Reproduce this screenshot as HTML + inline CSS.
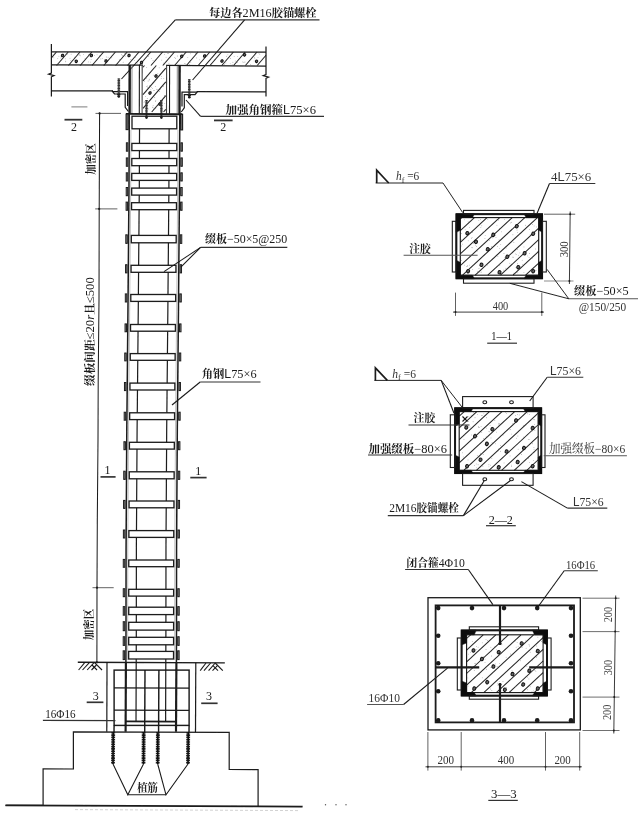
<!DOCTYPE html>
<html lang="zh"><head><meta charset="utf-8"><title>柱加固详图</title>
<style>
html,body{margin:0;padding:0;background:#fff;}
body{width:638px;height:822px;overflow:hidden;}
svg{display:block;font-family:'Liberation Serif','Noto Serif CJK SC',serif;}
svg text{white-space:pre;}
</style></head><body>
<svg width="638" height="822" viewBox="0 0 638 822">
<defs><filter id="soft" x="0" y="0" width="638" height="822" filterUnits="userSpaceOnUse"><feGaussianBlur stdDeviation="0.4"/></filter></defs>
<rect width="638" height="822" fill="#fff"/>
<g filter="url(#soft)">
<text x="209" y="17" font-size="11" text-anchor="start" fill="#1a1a1a" textLength="107.5" lengthAdjust="spacingAndGlyphs"><tspan font-weight="700">每边各</tspan><tspan font-size="11.99">2M16</tspan><tspan font-weight="700">胶锚螺栓</tspan></text>
<line x1="175.3" y1="19.8" x2="319.5" y2="19.8" stroke="#333" stroke-width="1.2"/>
<line x1="175.3" y1="19.8" x2="121.5" y2="79" stroke="#1a1a1a" stroke-width="1.08"/>
<line x1="244.6" y1="19.8" x2="192.6" y2="80" stroke="#1a1a1a" stroke-width="1.08"/>
<line x1="51.4" y1="51.8" x2="266" y2="52.2" stroke="#1a1a1a" stroke-width="1.32"/>
<line x1="51.4" y1="64.8" x2="143" y2="65.1" stroke="#1a1a1a" stroke-width="1.2"/>
<line x1="166" y1="65.4" x2="266" y2="66.2" stroke="#1a1a1a" stroke-width="1.2"/>
<line x1="51.4" y1="57.81" x2="56.4" y2="52" stroke="#222" stroke-width="1.08"/>
<line x1="56.59" y1="65.5" x2="68.2" y2="52" stroke="#222" stroke-width="1.08"/>
<line x1="68.39" y1="65.5" x2="80" y2="52" stroke="#222" stroke-width="1.08"/>
<line x1="80.19" y1="65.5" x2="91.8" y2="52" stroke="#222" stroke-width="1.08"/>
<line x1="91.99" y1="65.5" x2="103.6" y2="52" stroke="#222" stroke-width="1.08"/>
<line x1="103.79" y1="65.5" x2="115.4" y2="52" stroke="#222" stroke-width="1.08"/>
<line x1="115.59" y1="65.5" x2="127.2" y2="52" stroke="#222" stroke-width="1.08"/>
<line x1="127.39" y1="65.5" x2="139" y2="52" stroke="#222" stroke-width="1.08"/>
<line x1="139.19" y1="65.5" x2="150.8" y2="52" stroke="#222" stroke-width="1.08"/>
<line x1="150.99" y1="65.5" x2="162.6" y2="52" stroke="#222" stroke-width="1.08"/>
<line x1="162.79" y1="65.5" x2="174.4" y2="52" stroke="#222" stroke-width="1.08"/>
<line x1="174.59" y1="65.5" x2="186.2" y2="52" stroke="#222" stroke-width="1.08"/>
<line x1="186.39" y1="65.5" x2="198" y2="52" stroke="#222" stroke-width="1.08"/>
<line x1="198.19" y1="65.5" x2="209.8" y2="52" stroke="#222" stroke-width="1.08"/>
<line x1="209.99" y1="65.5" x2="221.6" y2="52" stroke="#222" stroke-width="1.08"/>
<line x1="221.79" y1="65.5" x2="233.4" y2="52" stroke="#222" stroke-width="1.08"/>
<line x1="233.59" y1="65.5" x2="245.2" y2="52" stroke="#222" stroke-width="1.08"/>
<line x1="245.39" y1="65.5" x2="257" y2="52" stroke="#222" stroke-width="1.08"/>
<line x1="257.19" y1="65.5" x2="266" y2="55.26" stroke="#222" stroke-width="1.08"/>
<circle cx="121.33" cy="54.73" r="0.4" fill="#777" stroke="none" stroke-width="0"/>
<circle cx="190.35" cy="53.83" r="0.4" fill="#777" stroke="none" stroke-width="0"/>
<circle cx="166.07" cy="57.21" r="0.4" fill="#777" stroke="none" stroke-width="0"/>
<circle cx="65.24" cy="58.84" r="0.4" fill="#777" stroke="none" stroke-width="0"/>
<circle cx="60.91" cy="57.99" r="0.4" fill="#777" stroke="none" stroke-width="0"/>
<circle cx="67.74" cy="54.04" r="0.4" fill="#777" stroke="none" stroke-width="0"/>
<circle cx="142.57" cy="62.51" r="0.4" fill="#777" stroke="none" stroke-width="0"/>
<circle cx="79.12" cy="55.57" r="0.4" fill="#777" stroke="none" stroke-width="0"/>
<circle cx="185.39" cy="63.9" r="0.4" fill="#777" stroke="none" stroke-width="0"/>
<circle cx="174.77" cy="57.56" r="0.4" fill="#777" stroke="none" stroke-width="0"/>
<circle cx="258.99" cy="53.54" r="0.4" fill="#777" stroke="none" stroke-width="0"/>
<circle cx="234.14" cy="56.33" r="0.4" fill="#777" stroke="none" stroke-width="0"/>
<circle cx="83.44" cy="54.35" r="0.4" fill="#777" stroke="none" stroke-width="0"/>
<circle cx="118.09" cy="62.39" r="0.4" fill="#777" stroke="none" stroke-width="0"/>
<circle cx="91.13" cy="59.69" r="0.4" fill="#777" stroke="none" stroke-width="0"/>
<circle cx="187.81" cy="57.28" r="0.4" fill="#777" stroke="none" stroke-width="0"/>
<circle cx="168.57" cy="53.72" r="0.4" fill="#777" stroke="none" stroke-width="0"/>
<circle cx="65.58" cy="55.37" r="0.4" fill="#777" stroke="none" stroke-width="0"/>
<circle cx="196.56" cy="57.92" r="0.4" fill="#777" stroke="none" stroke-width="0"/>
<circle cx="119.29" cy="59.73" r="0.4" fill="#777" stroke="none" stroke-width="0"/>
<circle cx="148.62" cy="56.45" r="0.4" fill="#777" stroke="none" stroke-width="0"/>
<circle cx="220.61" cy="61.04" r="0.4" fill="#777" stroke="none" stroke-width="0"/>
<circle cx="104.5" cy="59.61" r="0.4" fill="#777" stroke="none" stroke-width="0"/>
<circle cx="163.82" cy="63.06" r="0.4" fill="#777" stroke="none" stroke-width="0"/>
<circle cx="206.91" cy="56.31" r="0.4" fill="#777" stroke="none" stroke-width="0"/>
<circle cx="259.82" cy="54.36" r="0.4" fill="#777" stroke="none" stroke-width="0"/>
<circle cx="141.22" cy="61.71" r="0.4" fill="#777" stroke="none" stroke-width="0"/>
<circle cx="85.07" cy="58.62" r="0.4" fill="#777" stroke="none" stroke-width="0"/>
<circle cx="61.27" cy="60.68" r="0.4" fill="#777" stroke="none" stroke-width="0"/>
<circle cx="214.32" cy="59.59" r="0.4" fill="#777" stroke="none" stroke-width="0"/>
<circle cx="237.73" cy="56.61" r="0.4" fill="#777" stroke="none" stroke-width="0"/>
<circle cx="199.71" cy="59.84" r="0.4" fill="#777" stroke="none" stroke-width="0"/>
<circle cx="175.36" cy="58.25" r="0.4" fill="#777" stroke="none" stroke-width="0"/>
<circle cx="230.23" cy="63.86" r="0.4" fill="#777" stroke="none" stroke-width="0"/>
<circle cx="153.03" cy="60.64" r="0.4" fill="#777" stroke="none" stroke-width="0"/>
<circle cx="65.8" cy="61.07" r="0.4" fill="#777" stroke="none" stroke-width="0"/>
<circle cx="189.54" cy="64.42" r="0.4" fill="#777" stroke="none" stroke-width="0"/>
<circle cx="226.43" cy="56.27" r="0.4" fill="#777" stroke="none" stroke-width="0"/>
<circle cx="134.4" cy="60.69" r="0.4" fill="#777" stroke="none" stroke-width="0"/>
<circle cx="57.76" cy="58.31" r="0.4" fill="#777" stroke="none" stroke-width="0"/>
<circle cx="88.46" cy="54.35" r="0.4" fill="#777" stroke="none" stroke-width="0"/>
<circle cx="65.44" cy="61.83" r="0.4" fill="#777" stroke="none" stroke-width="0"/>
<circle cx="80.29" cy="55.85" r="0.4" fill="#777" stroke="none" stroke-width="0"/>
<circle cx="135.49" cy="63.02" r="0.4" fill="#777" stroke="none" stroke-width="0"/>
<circle cx="70" cy="58.17" r="0.4" fill="#777" stroke="none" stroke-width="0"/>
<circle cx="168.93" cy="63.16" r="0.4" fill="#777" stroke="none" stroke-width="0"/>
<circle cx="225.87" cy="62.94" r="0.4" fill="#777" stroke="none" stroke-width="0"/>
<circle cx="111.75" cy="57.78" r="0.4" fill="#777" stroke="none" stroke-width="0"/>
<circle cx="128.7" cy="63.17" r="0.4" fill="#777" stroke="none" stroke-width="0"/>
<circle cx="255.08" cy="54.74" r="0.4" fill="#777" stroke="none" stroke-width="0"/>
<circle cx="90.18" cy="55.67" r="0.4" fill="#777" stroke="none" stroke-width="0"/>
<circle cx="102.23" cy="58.58" r="0.4" fill="#777" stroke="none" stroke-width="0"/>
<circle cx="177.31" cy="56.02" r="0.4" fill="#777" stroke="none" stroke-width="0"/>
<circle cx="53.86" cy="57.82" r="0.4" fill="#777" stroke="none" stroke-width="0"/>
<circle cx="130.91" cy="59.51" r="0.4" fill="#777" stroke="none" stroke-width="0"/>
<circle cx="254.1" cy="60.94" r="0.4" fill="#777" stroke="none" stroke-width="0"/>
<circle cx="161.77" cy="60.1" r="0.4" fill="#777" stroke="none" stroke-width="0"/>
<circle cx="195.68" cy="53.62" r="0.4" fill="#777" stroke="none" stroke-width="0"/>
<circle cx="242.8" cy="61.97" r="0.4" fill="#777" stroke="none" stroke-width="0"/>
<circle cx="237.52" cy="62.18" r="0.4" fill="#777" stroke="none" stroke-width="0"/>
<circle cx="135.79" cy="57.59" r="0.4" fill="#777" stroke="none" stroke-width="0"/>
<circle cx="74.85" cy="60.29" r="0.4" fill="#777" stroke="none" stroke-width="0"/>
<circle cx="66.13" cy="53.77" r="0.4" fill="#777" stroke="none" stroke-width="0"/>
<circle cx="97.05" cy="54.87" r="0.4" fill="#777" stroke="none" stroke-width="0"/>
<circle cx="124.75" cy="53.6" r="0.4" fill="#777" stroke="none" stroke-width="0"/>
<circle cx="53.05" cy="54.74" r="0.4" fill="#777" stroke="none" stroke-width="0"/>
<circle cx="74.41" cy="57.18" r="0.4" fill="#777" stroke="none" stroke-width="0"/>
<circle cx="58.38" cy="63.05" r="0.4" fill="#777" stroke="none" stroke-width="0"/>
<circle cx="182.57" cy="54.71" r="0.4" fill="#777" stroke="none" stroke-width="0"/>
<circle cx="106.23" cy="56.99" r="0.4" fill="#777" stroke="none" stroke-width="0"/>
<circle cx="129.84" cy="54.41" r="0.4" fill="#777" stroke="none" stroke-width="0"/>
<circle cx="232.13" cy="64.42" r="0.4" fill="#777" stroke="none" stroke-width="0"/>
<circle cx="151.32" cy="58.56" r="0.4" fill="#777" stroke="none" stroke-width="0"/>
<circle cx="71.12" cy="54.18" r="0.4" fill="#777" stroke="none" stroke-width="0"/>
<circle cx="125.3" cy="56.04" r="0.4" fill="#777" stroke="none" stroke-width="0"/>
<circle cx="227.89" cy="54.86" r="0.4" fill="#777" stroke="none" stroke-width="0"/>
<circle cx="57.87" cy="63.94" r="0.4" fill="#777" stroke="none" stroke-width="0"/>
<circle cx="164.46" cy="54.69" r="0.4" fill="#777" stroke="none" stroke-width="0"/>
<circle cx="167.61" cy="53.31" r="0.4" fill="#777" stroke="none" stroke-width="0"/>
<circle cx="164.43" cy="64.25" r="0.4" fill="#777" stroke="none" stroke-width="0"/>
<circle cx="235.16" cy="61.01" r="0.4" fill="#777" stroke="none" stroke-width="0"/>
<circle cx="108.1" cy="57.22" r="0.4" fill="#777" stroke="none" stroke-width="0"/>
<circle cx="88.25" cy="61.88" r="0.4" fill="#777" stroke="none" stroke-width="0"/>
<circle cx="165.38" cy="61.96" r="0.4" fill="#777" stroke="none" stroke-width="0"/>
<circle cx="122.56" cy="55.56" r="0.4" fill="#777" stroke="none" stroke-width="0"/>
<circle cx="224.23" cy="64.33" r="0.4" fill="#777" stroke="none" stroke-width="0"/>
<circle cx="232.9" cy="62.27" r="0.4" fill="#777" stroke="none" stroke-width="0"/>
<circle cx="225.67" cy="61.51" r="0.4" fill="#777" stroke="none" stroke-width="0"/>
<circle cx="100.84" cy="58.95" r="0.4" fill="#777" stroke="none" stroke-width="0"/>
<circle cx="128.02" cy="53.33" r="0.4" fill="#777" stroke="none" stroke-width="0"/>
<circle cx="58.89" cy="56.21" r="0.4" fill="#777" stroke="none" stroke-width="0"/>
<circle cx="107.69" cy="60.96" r="0.4" fill="#777" stroke="none" stroke-width="0"/>
<circle cx="254.82" cy="58.14" r="0.4" fill="#777" stroke="none" stroke-width="0"/>
<circle cx="250.71" cy="64.36" r="0.4" fill="#777" stroke="none" stroke-width="0"/>
<circle cx="254.51" cy="57.19" r="0.4" fill="#777" stroke="none" stroke-width="0"/>
<circle cx="99.52" cy="55.61" r="0.4" fill="#777" stroke="none" stroke-width="0"/>
<circle cx="94.51" cy="55.35" r="0.4" fill="#777" stroke="none" stroke-width="0"/>
<circle cx="184.68" cy="63.35" r="0.4" fill="#777" stroke="none" stroke-width="0"/>
<circle cx="230.33" cy="58.51" r="0.4" fill="#777" stroke="none" stroke-width="0"/>
<circle cx="190.78" cy="62.2" r="0.4" fill="#777" stroke="none" stroke-width="0"/>
<circle cx="70.89" cy="60.6" r="0.4" fill="#777" stroke="none" stroke-width="0"/>
<circle cx="244.96" cy="62" r="0.4" fill="#777" stroke="none" stroke-width="0"/>
<circle cx="211.28" cy="58.5" r="0.4" fill="#777" stroke="none" stroke-width="0"/>
<circle cx="90.67" cy="62.08" r="0.4" fill="#777" stroke="none" stroke-width="0"/>
<circle cx="123.16" cy="62.21" r="0.4" fill="#777" stroke="none" stroke-width="0"/>
<circle cx="258.02" cy="57.55" r="0.4" fill="#777" stroke="none" stroke-width="0"/>
<circle cx="137.69" cy="63.89" r="0.4" fill="#777" stroke="none" stroke-width="0"/>
<circle cx="205.93" cy="54.96" r="0.4" fill="#777" stroke="none" stroke-width="0"/>
<circle cx="79.81" cy="54.74" r="0.4" fill="#777" stroke="none" stroke-width="0"/>
<circle cx="243.92" cy="62.27" r="0.4" fill="#777" stroke="none" stroke-width="0"/>
<ellipse cx="62.5" cy="55.5" rx="1.15" ry="1.32" fill="#666" stroke="#111" stroke-width="1" transform="rotate(25 62.5 55.5)"/>
<ellipse cx="76.3" cy="61.3" rx="1.15" ry="1.32" fill="#666" stroke="#111" stroke-width="1" transform="rotate(25 76.3 61.3)"/>
<ellipse cx="91.4" cy="55.5" rx="1.15" ry="1.32" fill="#666" stroke="#111" stroke-width="1" transform="rotate(25 91.4 55.5)"/>
<ellipse cx="106" cy="61" rx="1.15" ry="1.32" fill="#666" stroke="#111" stroke-width="1" transform="rotate(25 106 61)"/>
<ellipse cx="129" cy="55.5" rx="1.15" ry="1.32" fill="#666" stroke="#111" stroke-width="1" transform="rotate(25 129 55.5)"/>
<ellipse cx="141.5" cy="62.5" rx="1.15" ry="1.32" fill="#666" stroke="#111" stroke-width="1" transform="rotate(25 141.5 62.5)"/>
<ellipse cx="181.7" cy="56.3" rx="1.15" ry="1.32" fill="#666" stroke="#111" stroke-width="1" transform="rotate(25 181.7 56.3)"/>
<ellipse cx="204.6" cy="56" rx="1.15" ry="1.32" fill="#666" stroke="#111" stroke-width="1" transform="rotate(25 204.6 56)"/>
<ellipse cx="222" cy="61" rx="1.15" ry="1.32" fill="#666" stroke="#111" stroke-width="1" transform="rotate(25 222 61)"/>
<ellipse cx="244.6" cy="54.8" rx="1.15" ry="1.32" fill="#666" stroke="#111" stroke-width="1" transform="rotate(25 244.6 54.8)"/>
<ellipse cx="256.6" cy="61.3" rx="1.15" ry="1.32" fill="#666" stroke="#111" stroke-width="1" transform="rotate(25 256.6 61.3)"/>
<polyline points="51.4,44 51.4,73 48.6,74.2 54,75.6 51.4,76.8 51.4,96.5" fill="none" stroke="#1a1a1a" stroke-width="1.2"/>
<polyline points="266,46.6 266,74.5 263.2,75.7 268.6,77.1 266,78.3 266,96.5" fill="none" stroke="#1a1a1a" stroke-width="1.2"/>
<line x1="51.4" y1="90.8" x2="113" y2="90.9" stroke="#1a1a1a" stroke-width="1.2"/>
<line x1="196.5" y1="91.6" x2="266" y2="91.9" stroke="#1a1a1a" stroke-width="1.2"/>
<polyline points="112,90.9 114.5,94 125.2,94 125.2,107.4 128.4,111.5" fill="none" stroke="#1a1a1a" stroke-width="1.2"/>
<polyline points="113,91.6 127.6,91.6 127.6,106" fill="none" stroke="#1a1a1a" stroke-width="1.2"/>
<polyline points="197.5,91.6 195,94.6 184.3,94.6 184.3,107.8 181.3,112" fill="none" stroke="#1a1a1a" stroke-width="1.2"/>
<polyline points="196.5,92.2 182,92.2 182,106.5" fill="none" stroke="#1a1a1a" stroke-width="1.2"/>
<line x1="118.8" y1="78.4" x2="118.8" y2="97.2" stroke="#555" stroke-width="1.44"/>
<line x1="118.8" y1="78.4" x2="118.8" y2="97.2" stroke="#333" stroke-width="2.64" stroke-dasharray="1.1 0.5"/>
<line x1="117.2" y1="94.6" x2="120.4" y2="94.6" stroke="#1a1a1a" stroke-width="1.44"/>
<circle cx="118.8" cy="96.6" r="1.2" fill="#1a1a1a" stroke="none" stroke-width="0"/>
<line x1="189.3" y1="79.2" x2="189.3" y2="97.8" stroke="#555" stroke-width="1.44"/>
<line x1="189.3" y1="79.2" x2="189.3" y2="97.8" stroke="#333" stroke-width="2.64" stroke-dasharray="1.1 0.5"/>
<line x1="187.7" y1="95.2" x2="190.9" y2="95.2" stroke="#1a1a1a" stroke-width="1.44"/>
<circle cx="189.3" cy="97.2" r="1.2" fill="#1a1a1a" stroke="none" stroke-width="0"/>
<line x1="129.7" y1="65" x2="129.6" y2="113.7" stroke="#1a1a1a" stroke-width="2.4"/>
<line x1="132" y1="66" x2="131.9" y2="113" stroke="#777" stroke-width="0.84"/>
<line x1="139.4" y1="65" x2="139.3" y2="113.7" stroke="#1a1a1a" stroke-width="1.08"/>
<line x1="142.2" y1="65" x2="142.1" y2="113.7" stroke="#444" stroke-width="1.08"/>
<line x1="166.6" y1="65.5" x2="166.5" y2="113.7" stroke="#444" stroke-width="1.08"/>
<line x1="169.6" y1="65.5" x2="169.5" y2="113.7" stroke="#1a1a1a" stroke-width="1.08"/>
<line x1="177.3" y1="66" x2="177.2" y2="113" stroke="#777" stroke-width="0.84"/>
<line x1="179.6" y1="65.5" x2="179.5" y2="113.7" stroke="#1a1a1a" stroke-width="2.4"/>
<line x1="143" y1="67.24" x2="144.5" y2="65.5" stroke="#222" stroke-width="1.08"/>
<line x1="143" y1="80.97" x2="156.3" y2="65.5" stroke="#222" stroke-width="1.08"/>
<line x1="143" y1="94.69" x2="165.8" y2="68.17" stroke="#222" stroke-width="1.08"/>
<line x1="143" y1="108.41" x2="165.8" y2="81.9" stroke="#222" stroke-width="1.08"/>
<line x1="151.71" y1="112" x2="165.8" y2="95.62" stroke="#222" stroke-width="1.08"/>
<line x1="163.51" y1="112" x2="165.8" y2="109.34" stroke="#222" stroke-width="1.08"/>
<circle cx="147.07" cy="103.37" r="0.4" fill="#777" stroke="none" stroke-width="0"/>
<circle cx="164.59" cy="95.92" r="0.4" fill="#777" stroke="none" stroke-width="0"/>
<circle cx="151.36" cy="91.14" r="0.4" fill="#777" stroke="none" stroke-width="0"/>
<circle cx="146.75" cy="67.63" r="0.4" fill="#777" stroke="none" stroke-width="0"/>
<circle cx="164.39" cy="95.59" r="0.4" fill="#777" stroke="none" stroke-width="0"/>
<circle cx="155.06" cy="108.08" r="0.4" fill="#777" stroke="none" stroke-width="0"/>
<circle cx="153.11" cy="105.36" r="0.4" fill="#777" stroke="none" stroke-width="0"/>
<circle cx="161.35" cy="76.29" r="0.4" fill="#777" stroke="none" stroke-width="0"/>
<circle cx="149.29" cy="79.89" r="0.4" fill="#777" stroke="none" stroke-width="0"/>
<circle cx="149.05" cy="92.8" r="0.4" fill="#777" stroke="none" stroke-width="0"/>
<circle cx="149.45" cy="85.44" r="0.4" fill="#777" stroke="none" stroke-width="0"/>
<circle cx="146.75" cy="107.04" r="0.4" fill="#777" stroke="none" stroke-width="0"/>
<circle cx="151.43" cy="87.16" r="0.4" fill="#777" stroke="none" stroke-width="0"/>
<circle cx="156.25" cy="106.79" r="0.4" fill="#777" stroke="none" stroke-width="0"/>
<circle cx="152.83" cy="107.38" r="0.4" fill="#777" stroke="none" stroke-width="0"/>
<circle cx="154.53" cy="90.4" r="0.4" fill="#777" stroke="none" stroke-width="0"/>
<circle cx="154.99" cy="67.82" r="0.4" fill="#777" stroke="none" stroke-width="0"/>
<circle cx="153.24" cy="75.06" r="0.4" fill="#777" stroke="none" stroke-width="0"/>
<circle cx="144.08" cy="102.16" r="0.4" fill="#777" stroke="none" stroke-width="0"/>
<circle cx="147.62" cy="87.83" r="0.4" fill="#777" stroke="none" stroke-width="0"/>
<circle cx="159.23" cy="91.48" r="0.4" fill="#777" stroke="none" stroke-width="0"/>
<circle cx="150.85" cy="89.81" r="0.4" fill="#777" stroke="none" stroke-width="0"/>
<circle cx="155.66" cy="101.51" r="0.4" fill="#777" stroke="none" stroke-width="0"/>
<circle cx="146.23" cy="91.65" r="0.4" fill="#777" stroke="none" stroke-width="0"/>
<circle cx="149.22" cy="79.18" r="0.4" fill="#777" stroke="none" stroke-width="0"/>
<circle cx="160.22" cy="89.34" r="0.4" fill="#777" stroke="none" stroke-width="0"/>
<circle cx="155.8" cy="100.44" r="0.4" fill="#777" stroke="none" stroke-width="0"/>
<circle cx="163.16" cy="86.5" r="0.4" fill="#777" stroke="none" stroke-width="0"/>
<circle cx="156.86" cy="89.24" r="0.4" fill="#777" stroke="none" stroke-width="0"/>
<circle cx="154.76" cy="97.48" r="0.4" fill="#777" stroke="none" stroke-width="0"/>
<circle cx="153.5" cy="90.46" r="0.4" fill="#777" stroke="none" stroke-width="0"/>
<circle cx="154.04" cy="108.43" r="0.4" fill="#777" stroke="none" stroke-width="0"/>
<circle cx="158.68" cy="105.57" r="0.4" fill="#777" stroke="none" stroke-width="0"/>
<circle cx="163.79" cy="78.42" r="0.4" fill="#777" stroke="none" stroke-width="0"/>
<circle cx="155.75" cy="108.5" r="0.4" fill="#777" stroke="none" stroke-width="0"/>
<circle cx="161.64" cy="73.03" r="0.4" fill="#777" stroke="none" stroke-width="0"/>
<circle cx="146.55" cy="86.45" r="0.4" fill="#777" stroke="none" stroke-width="0"/>
<circle cx="145.52" cy="77.59" r="0.4" fill="#777" stroke="none" stroke-width="0"/>
<circle cx="145.54" cy="96.46" r="0.4" fill="#777" stroke="none" stroke-width="0"/>
<circle cx="160.46" cy="106.47" r="0.4" fill="#777" stroke="none" stroke-width="0"/>
<circle cx="147.24" cy="98.51" r="0.4" fill="#777" stroke="none" stroke-width="0"/>
<circle cx="157.87" cy="73.29" r="0.4" fill="#777" stroke="none" stroke-width="0"/>
<circle cx="162.54" cy="109.57" r="0.4" fill="#777" stroke="none" stroke-width="0"/>
<circle cx="148.61" cy="108.91" r="0.4" fill="#777" stroke="none" stroke-width="0"/>
<circle cx="152.36" cy="88.44" r="0.4" fill="#777" stroke="none" stroke-width="0"/>
<circle cx="164.79" cy="103.63" r="0.4" fill="#777" stroke="none" stroke-width="0"/>
<circle cx="147.39" cy="85.99" r="0.4" fill="#777" stroke="none" stroke-width="0"/>
<circle cx="154.83" cy="81.92" r="0.4" fill="#777" stroke="none" stroke-width="0"/>
<circle cx="148.11" cy="81.02" r="0.4" fill="#777" stroke="none" stroke-width="0"/>
<circle cx="159.17" cy="67.86" r="0.4" fill="#777" stroke="none" stroke-width="0"/>
<circle cx="155.64" cy="86.38" r="0.4" fill="#777" stroke="none" stroke-width="0"/>
<circle cx="144.38" cy="81.59" r="0.4" fill="#777" stroke="none" stroke-width="0"/>
<circle cx="157.1" cy="89.54" r="0.4" fill="#777" stroke="none" stroke-width="0"/>
<circle cx="145.35" cy="110.34" r="0.4" fill="#777" stroke="none" stroke-width="0"/>
<circle cx="160.56" cy="109.75" r="0.4" fill="#777" stroke="none" stroke-width="0"/>
<circle cx="146.2" cy="78.68" r="0.4" fill="#777" stroke="none" stroke-width="0"/>
<circle cx="144.83" cy="101.28" r="0.4" fill="#777" stroke="none" stroke-width="0"/>
<circle cx="149.68" cy="72.7" r="0.4" fill="#777" stroke="none" stroke-width="0"/>
<circle cx="152.87" cy="107.1" r="0.4" fill="#777" stroke="none" stroke-width="0"/>
<circle cx="161.2" cy="78.38" r="0.4" fill="#777" stroke="none" stroke-width="0"/>
<ellipse cx="156" cy="76" rx="1.15" ry="1.32" fill="#666" stroke="#111" stroke-width="1" transform="rotate(25 156 76)"/>
<ellipse cx="150" cy="93" rx="1.15" ry="1.32" fill="#666" stroke="#111" stroke-width="1" transform="rotate(25 150 93)"/>
<ellipse cx="160" cy="104" rx="1.15" ry="1.32" fill="#666" stroke="#111" stroke-width="1" transform="rotate(25 160 104)"/>
<line x1="146.5" y1="100" x2="146.5" y2="117.5" stroke="#555" stroke-width="1.32"/>
<line x1="146.5" y1="100" x2="146.5" y2="117.5" stroke="#333" stroke-width="2.4" stroke-dasharray="1.1 0.5"/>
<circle cx="146.5" cy="117.6" r="1.3" fill="#1a1a1a" stroke="none" stroke-width="0"/>
<line x1="161.4" y1="100" x2="161.4" y2="117.5" stroke="#555" stroke-width="1.32"/>
<line x1="161.4" y1="100" x2="161.4" y2="117.5" stroke="#333" stroke-width="2.4" stroke-dasharray="1.1 0.5"/>
<circle cx="161.4" cy="117.6" r="1.3" fill="#1a1a1a" stroke="none" stroke-width="0"/>
<line x1="126" y1="113.9" x2="182.3" y2="114.2" stroke="#1a1a1a" stroke-width="1.92"/>
<rect x="126.1" y="114" width="2.1" height="15.6" fill="#777" stroke="#1a1a1a" stroke-width="1.08"/>
<rect x="180.6" y="114.3" width="2" height="15.6" fill="#777" stroke="#1a1a1a" stroke-width="1.08"/>
<rect x="132" y="116.2" width="44.8" height="12.6" fill="none" stroke="#1a1a1a" stroke-width="1.32"/>
<polyline points="129.3,113.7 128.98,190 127.96,310 126.8,430 126.06,550 126,630 125.91,662.3" fill="none" stroke="#1a1a1a" stroke-width="1.5"/>
<polyline points="179.8,113.7 179.48,190 178.46,310 177.3,430 176.56,550 176.5,630 176.41,662.3" fill="none" stroke="#1a1a1a" stroke-width="1.5"/>
<polyline points="139.53,129 139.28,190 138.26,310 137.1,430 136.36,550 136.3,630 136.03,721" fill="none" stroke="#1a1a1a" stroke-width="1.2"/>
<polyline points="169.13,129 168.88,190 167.86,310 166.7,430 165.96,550 165.9,630 165.63,721" fill="none" stroke="#1a1a1a" stroke-width="1.2"/>
<polyline points="130.93,130 130.68,190 129.66,310 128.5,430 127.76,550 127.7,630 127.61,660" fill="none" stroke="#999" stroke-width="0.6"/>
<polyline points="177.93,130 177.68,190 176.66,310 175.5,430 174.76,550 174.7,630 174.61,660" fill="none" stroke="#999" stroke-width="0.6"/>
<rect x="131.87" y="143.4" width="44.9" height="7.2" fill="#fff" stroke="#1a1a1a" stroke-width="1.32"/>
<rect x="126.37" y="142.8" width="1.5" height="8.4" fill="#888" stroke="#1a1a1a" stroke-width="0.96"/>
<rect x="180.87" y="142.8" width="1.5" height="8.4" fill="#888" stroke="#1a1a1a" stroke-width="0.96"/>
<rect x="131.81" y="158.5" width="44.9" height="7.2" fill="#fff" stroke="#1a1a1a" stroke-width="1.32"/>
<rect x="126.31" y="157.9" width="1.5" height="8.4" fill="#888" stroke="#1a1a1a" stroke-width="0.96"/>
<rect x="180.81" y="157.9" width="1.5" height="8.4" fill="#888" stroke="#1a1a1a" stroke-width="0.96"/>
<rect x="131.75" y="173.4" width="44.9" height="7" fill="#fff" stroke="#1a1a1a" stroke-width="1.32"/>
<rect x="126.25" y="172.8" width="1.5" height="8.2" fill="#888" stroke="#1a1a1a" stroke-width="0.96"/>
<rect x="180.75" y="172.8" width="1.5" height="8.2" fill="#888" stroke="#1a1a1a" stroke-width="0.96"/>
<rect x="131.69" y="188.1" width="44.9" height="7" fill="#fff" stroke="#1a1a1a" stroke-width="1.32"/>
<rect x="126.19" y="187.5" width="1.5" height="8.2" fill="#888" stroke="#1a1a1a" stroke-width="0.96"/>
<rect x="180.69" y="187.5" width="1.5" height="8.2" fill="#888" stroke="#1a1a1a" stroke-width="0.96"/>
<rect x="131.57" y="202.7" width="44.9" height="7" fill="#fff" stroke="#1a1a1a" stroke-width="1.32"/>
<rect x="126.07" y="202.1" width="1.5" height="8.2" fill="#888" stroke="#1a1a1a" stroke-width="0.96"/>
<rect x="180.57" y="202.1" width="1.5" height="8.2" fill="#888" stroke="#1a1a1a" stroke-width="0.96"/>
<rect x="131.29" y="235.4" width="44.9" height="7.4" fill="#fff" stroke="#1a1a1a" stroke-width="1.32"/>
<rect x="125.79" y="234.8" width="1.5" height="8.6" fill="#888" stroke="#1a1a1a" stroke-width="0.96"/>
<rect x="180.29" y="234.8" width="1.5" height="8.6" fill="#888" stroke="#1a1a1a" stroke-width="0.96"/>
<rect x="131.04" y="265.3" width="44.9" height="7" fill="#fff" stroke="#1a1a1a" stroke-width="1.32"/>
<rect x="125.54" y="264.7" width="1.5" height="8.2" fill="#888" stroke="#1a1a1a" stroke-width="0.96"/>
<rect x="180.04" y="264.7" width="1.5" height="8.2" fill="#888" stroke="#1a1a1a" stroke-width="0.96"/>
<rect x="130.79" y="294.5" width="44.9" height="6.9" fill="#fff" stroke="#1a1a1a" stroke-width="1.32"/>
<rect x="125.29" y="293.9" width="1.5" height="8.1" fill="#888" stroke="#1a1a1a" stroke-width="0.96"/>
<rect x="179.79" y="293.9" width="1.5" height="8.1" fill="#888" stroke="#1a1a1a" stroke-width="0.96"/>
<rect x="130.52" y="324.5" width="44.9" height="6.7" fill="#fff" stroke="#1a1a1a" stroke-width="1.32"/>
<rect x="125.02" y="323.9" width="1.5" height="7.9" fill="#888" stroke="#1a1a1a" stroke-width="0.96"/>
<rect x="179.52" y="323.9" width="1.5" height="7.9" fill="#888" stroke="#1a1a1a" stroke-width="0.96"/>
<rect x="130.24" y="353.6" width="44.9" height="6.7" fill="#fff" stroke="#1a1a1a" stroke-width="1.32"/>
<rect x="124.74" y="353" width="1.5" height="7.9" fill="#888" stroke="#1a1a1a" stroke-width="0.96"/>
<rect x="179.24" y="353" width="1.5" height="7.9" fill="#888" stroke="#1a1a1a" stroke-width="0.96"/>
<rect x="129.95" y="383.1" width="44.9" height="6.9" fill="#fff" stroke="#1a1a1a" stroke-width="1.32"/>
<rect x="124.45" y="382.5" width="1.5" height="8.1" fill="#888" stroke="#1a1a1a" stroke-width="0.96"/>
<rect x="178.95" y="382.5" width="1.5" height="8.1" fill="#888" stroke="#1a1a1a" stroke-width="0.96"/>
<rect x="129.67" y="412.8" width="44.9" height="6.8" fill="#fff" stroke="#1a1a1a" stroke-width="1.32"/>
<rect x="124.17" y="412.2" width="1.5" height="8" fill="#888" stroke="#1a1a1a" stroke-width="0.96"/>
<rect x="178.67" y="412.2" width="1.5" height="8" fill="#888" stroke="#1a1a1a" stroke-width="0.96"/>
<rect x="129.42" y="442.3" width="44.9" height="6.8" fill="#fff" stroke="#1a1a1a" stroke-width="1.32"/>
<rect x="123.92" y="441.7" width="1.5" height="8" fill="#888" stroke="#1a1a1a" stroke-width="0.96"/>
<rect x="178.42" y="441.7" width="1.5" height="8" fill="#888" stroke="#1a1a1a" stroke-width="0.96"/>
<rect x="129.24" y="471.8" width="44.9" height="7" fill="#fff" stroke="#1a1a1a" stroke-width="1.32"/>
<rect x="123.74" y="471.2" width="1.5" height="8.2" fill="#888" stroke="#1a1a1a" stroke-width="0.96"/>
<rect x="178.24" y="471.2" width="1.5" height="8.2" fill="#888" stroke="#1a1a1a" stroke-width="0.96"/>
<rect x="129.06" y="501" width="44.9" height="6.8" fill="#fff" stroke="#1a1a1a" stroke-width="1.32"/>
<rect x="123.56" y="500.4" width="1.5" height="8" fill="#888" stroke="#1a1a1a" stroke-width="0.96"/>
<rect x="178.06" y="500.4" width="1.5" height="8" fill="#888" stroke="#1a1a1a" stroke-width="0.96"/>
<rect x="128.88" y="530.6" width="44.9" height="6.8" fill="#fff" stroke="#1a1a1a" stroke-width="1.32"/>
<rect x="123.38" y="530" width="1.5" height="8" fill="#888" stroke="#1a1a1a" stroke-width="0.96"/>
<rect x="177.88" y="530" width="1.5" height="8" fill="#888" stroke="#1a1a1a" stroke-width="0.96"/>
<rect x="128.75" y="560" width="44.9" height="6.7" fill="#fff" stroke="#1a1a1a" stroke-width="1.32"/>
<rect x="123.25" y="559.4" width="1.5" height="7.9" fill="#888" stroke="#1a1a1a" stroke-width="0.96"/>
<rect x="177.75" y="559.4" width="1.5" height="7.9" fill="#888" stroke="#1a1a1a" stroke-width="0.96"/>
<rect x="128.73" y="589.3" width="44.9" height="6.8" fill="#fff" stroke="#1a1a1a" stroke-width="1.32"/>
<rect x="123.23" y="588.7" width="1.5" height="8" fill="#888" stroke="#1a1a1a" stroke-width="0.96"/>
<rect x="177.73" y="588.7" width="1.5" height="8" fill="#888" stroke="#1a1a1a" stroke-width="0.96"/>
<rect x="128.72" y="607.2" width="44.9" height="7.4" fill="#fff" stroke="#1a1a1a" stroke-width="1.32"/>
<rect x="123.22" y="606.6" width="1.5" height="8.6" fill="#888" stroke="#1a1a1a" stroke-width="0.96"/>
<rect x="177.72" y="606.6" width="1.5" height="8.6" fill="#888" stroke="#1a1a1a" stroke-width="0.96"/>
<rect x="128.71" y="622.3" width="44.9" height="7.8" fill="#fff" stroke="#1a1a1a" stroke-width="1.32"/>
<rect x="123.21" y="621.7" width="1.5" height="9" fill="#888" stroke="#1a1a1a" stroke-width="0.96"/>
<rect x="177.71" y="621.7" width="1.5" height="9" fill="#888" stroke="#1a1a1a" stroke-width="0.96"/>
<rect x="128.68" y="637.3" width="44.9" height="7.5" fill="#fff" stroke="#1a1a1a" stroke-width="1.32"/>
<rect x="123.18" y="636.7" width="1.5" height="8.7" fill="#888" stroke="#1a1a1a" stroke-width="0.96"/>
<rect x="177.68" y="636.7" width="1.5" height="8.7" fill="#888" stroke="#1a1a1a" stroke-width="0.96"/>
<rect x="128.64" y="651.4" width="44.9" height="7.6" fill="#fff" stroke="#1a1a1a" stroke-width="1.32"/>
<rect x="123.14" y="650.8" width="1.5" height="8.8" fill="#888" stroke="#1a1a1a" stroke-width="0.96"/>
<rect x="177.64" y="650.8" width="1.5" height="8.8" fill="#888" stroke="#1a1a1a" stroke-width="0.96"/>
<polyline points="99.6,112.7 99.2,209 99,300 98.2,380 98,440 97.3,520 97,588 96.9,662.3" fill="none" stroke="#1a1a1a" stroke-width="1.02"/>
<line x1="95.5" y1="113.4" x2="121" y2="113.4" stroke="#444" stroke-width="0.84"/>
<line x1="95.2" y1="208.9" x2="117.4" y2="208.9" stroke="#444" stroke-width="0.84"/>
<line x1="92.5" y1="587.7" x2="113.7" y2="587.7" stroke="#444" stroke-width="0.84"/>
<circle cx="99.6" cy="113.4" r="1.1" fill="#1a1a1a" stroke="none" stroke-width="0"/>
<circle cx="99.2" cy="208.9" r="1.1" fill="#1a1a1a" stroke="none" stroke-width="0"/>
<circle cx="97" cy="587.7" r="1.1" fill="#1a1a1a" stroke="none" stroke-width="0"/>
<circle cx="96.9" cy="662.3" r="1.1" fill="#1a1a1a" stroke="none" stroke-width="0"/>
<text x="95.2" y="159.1" font-size="11" text-anchor="middle" fill="#1a1a1a" textLength="31.4" lengthAdjust="spacingAndGlyphs" transform="rotate(-90 95.2 159.1)"><tspan font-weight="700">加密区</tspan></text>
<text x="93.8" y="331.6" font-size="11" text-anchor="middle" fill="#1a1a1a" textLength="108.7" lengthAdjust="spacingAndGlyphs" transform="rotate(-90 93.8 331.6)"><tspan font-weight="700">缀板间距</tspan><tspan font-size="11.99">≤20</tspan><tspan font-size="11.99" font-style="italic">r</tspan><tspan font-weight="700">且</tspan><tspan font-size="11.99">≤500</tspan></text>
<text x="92.8" y="624.6" font-size="11" text-anchor="middle" fill="#1a1a1a" textLength="31.4" lengthAdjust="spacingAndGlyphs" transform="rotate(-90 92.8 624.6)"><tspan font-weight="700">加密区</tspan></text>
<line x1="71.4" y1="106.9" x2="87.4" y2="106.9" stroke="#777" stroke-width="0.96"/>
<line x1="64.5" y1="119.7" x2="82.3" y2="119.7" stroke="#333" stroke-width="1.8"/>
<text x="73.9" y="130.6" font-size="11" text-anchor="middle" fill="#1a1a1a"><tspan font-size="11.99">2</tspan></text>
<line x1="214" y1="120.4" x2="232.6" y2="120.4" stroke="#333" stroke-width="1.8"/>
<text x="223.3" y="131.2" font-size="11" text-anchor="middle" fill="#1a1a1a"><tspan font-size="11.99">2</tspan></text>
<text x="225.4" y="113.6" font-size="11" text-anchor="start" fill="#1a1a1a" textLength="90.6" lengthAdjust="spacingAndGlyphs"><tspan font-weight="700">加强角钢箍</tspan><tspan font-size="11.99" font-family="Liberation Sans,sans-serif" font-weight="400">L</tspan><tspan font-size="11.99">75×6</tspan></text>
<line x1="200.6" y1="116.4" x2="324" y2="116.4" stroke="#333" stroke-width="1.2"/>
<line x1="200.6" y1="116.4" x2="186" y2="100" stroke="#1a1a1a" stroke-width="1.08"/>
<text x="205" y="243.2" font-size="11" text-anchor="start" fill="#1a1a1a" textLength="82.3" lengthAdjust="spacingAndGlyphs"><tspan font-weight="700">缀板</tspan><tspan font-size="11.99">−50×5@250</tspan></text>
<line x1="200.6" y1="247.4" x2="287.3" y2="247.4" stroke="#333" stroke-width="1.2"/>
<line x1="200.6" y1="247.4" x2="164" y2="271.6" stroke="#1a1a1a" stroke-width="1.08"/>
<line x1="200.6" y1="247.4" x2="180.8" y2="267.2" stroke="#1a1a1a" stroke-width="1.08"/>
<text x="201.7" y="377.8" font-size="11" text-anchor="start" fill="#1a1a1a" textLength="54.9" lengthAdjust="spacingAndGlyphs"><tspan font-weight="700">角钢</tspan><tspan font-size="11.99" font-family="Liberation Sans,sans-serif" font-weight="400">L</tspan><tspan font-size="11.99">75×6</tspan></text>
<line x1="200.2" y1="382" x2="260.5" y2="382" stroke="#333" stroke-width="1.2"/>
<line x1="200.2" y1="382" x2="172" y2="405" stroke="#1a1a1a" stroke-width="1.08"/>
<line x1="100.5" y1="476.9" x2="115.6" y2="476.9" stroke="#333" stroke-width="1.68"/>
<text x="107.6" y="474" font-size="11" text-anchor="middle" fill="#1a1a1a"><tspan font-size="11.99">1</tspan></text>
<line x1="190.3" y1="477.6" x2="206.6" y2="477.6" stroke="#333" stroke-width="1.68"/>
<text x="198.3" y="474.6" font-size="11" text-anchor="middle" fill="#1a1a1a"><tspan font-size="11.99">1</tspan></text>
<line x1="77.8" y1="662.2" x2="224.8" y2="662.9" stroke="#1a1a1a" stroke-width="1.44"/>
<line x1="84.9" y1="662.4" x2="78.6" y2="670" stroke="#1a1a1a" stroke-width="1.08"/>
<line x1="89.6" y1="662.4" x2="82.5" y2="670" stroke="#1a1a1a" stroke-width="1.08"/>
<line x1="94.3" y1="662.4" x2="87.2" y2="670" stroke="#1a1a1a" stroke-width="1.08"/>
<line x1="94.3" y1="662.4" x2="102" y2="670" stroke="#1a1a1a" stroke-width="1.08"/>
<line x1="92" y1="665" x2="97" y2="670" stroke="#1a1a1a" stroke-width="1.08"/>
<line x1="96.4" y1="665" x2="91.5" y2="670" stroke="#1a1a1a" stroke-width="1.08"/>
<line x1="206" y1="663" x2="200.2" y2="670.6" stroke="#1a1a1a" stroke-width="1.08"/>
<line x1="210.6" y1="663" x2="204" y2="670.6" stroke="#1a1a1a" stroke-width="1.08"/>
<line x1="215.2" y1="663" x2="208.6" y2="670.6" stroke="#1a1a1a" stroke-width="1.08"/>
<line x1="215.2" y1="663" x2="222.8" y2="670.6" stroke="#1a1a1a" stroke-width="1.08"/>
<line x1="213" y1="665.6" x2="218" y2="670.6" stroke="#1a1a1a" stroke-width="1.08"/>
<line x1="217.4" y1="665.6" x2="212.5" y2="670.6" stroke="#1a1a1a" stroke-width="1.08"/>
<line x1="107" y1="662.3" x2="106.8" y2="731.8" stroke="#1a1a1a" stroke-width="1.2"/>
<line x1="195.8" y1="662.8" x2="195.5" y2="732.2" stroke="#1a1a1a" stroke-width="1.2"/>
<rect x="114.1" y="670.1" width="75" height="55.3" fill="none" stroke="#1a1a1a" stroke-width="1.44"/>
<line x1="114.1" y1="687.8" x2="189.1" y2="688.1" stroke="#1a1a1a" stroke-width="1.2"/>
<line x1="114.1" y1="710.1" x2="189.1" y2="710.4" stroke="#1a1a1a" stroke-width="1.2"/>
<line x1="114.1" y1="725.4" x2="114" y2="732" stroke="#1a1a1a" stroke-width="1.44"/>
<line x1="189.1" y1="725.4" x2="189" y2="732" stroke="#1a1a1a" stroke-width="1.44"/>
<line x1="125.9" y1="662" x2="125.6" y2="731.8" stroke="#1a1a1a" stroke-width="2.16"/>
<line x1="176.4" y1="662" x2="176" y2="731.8" stroke="#1a1a1a" stroke-width="2.16"/>
<line x1="145" y1="670.1" x2="144.7" y2="732" stroke="#1a1a1a" stroke-width="1.44"/>
<line x1="158.9" y1="670.1" x2="158.6" y2="732" stroke="#1a1a1a" stroke-width="1.44"/>
<line x1="125" y1="721.4" x2="176.3" y2="721.6" stroke="#1a1a1a" stroke-width="1.8"/>
<text x="95.8" y="699.8" font-size="11" text-anchor="middle" fill="#1a1a1a"><tspan font-size="11.99">3</tspan></text>
<line x1="86.7" y1="702.3" x2="103.4" y2="702.3" stroke="#333" stroke-width="1.68"/>
<text x="209" y="700.3" font-size="11" text-anchor="middle" fill="#1a1a1a"><tspan font-size="11.99">3</tspan></text>
<line x1="201.2" y1="703.3" x2="217.6" y2="703.3" stroke="#333" stroke-width="1.68"/>
<text x="45.2" y="718.4" font-size="11" text-anchor="start" fill="#1a1a1a" textLength="30.3" lengthAdjust="spacingAndGlyphs"><tspan font-size="11.99">16Φ16</tspan></text>
<line x1="42.9" y1="720.4" x2="115.4" y2="720.6" stroke="#333" stroke-width="1.08"/>
<polyline points="5.5,805.3 43.1,805.4 43.1,768.9 73.4,769 73.4,731.8 229.2,732.4 229.2,769.5 258.1,769.6 258.1,806.2" fill="none" stroke="#1a1a1a" stroke-width="1.2"/>
<line x1="5.5" y1="805.3" x2="302.6" y2="806.6" stroke="#1a1a1a" stroke-width="1.68"/>
<circle cx="325.5" cy="804.8" r="0.7" fill="#555" stroke="none" stroke-width="0"/>
<circle cx="336" cy="804.8" r="0.7" fill="#555" stroke="none" stroke-width="0"/>
<circle cx="346" cy="804.8" r="0.7" fill="#555" stroke="none" stroke-width="0"/>
<line x1="75" y1="809.6" x2="300" y2="810.6" stroke="#d0d0d0" stroke-width="0.96" stroke-dasharray="3 2"/>
<line x1="113.2" y1="732" x2="113" y2="764" stroke="#222" stroke-width="3.84" stroke-dasharray="1.6 0.7"/>
<line x1="113.2" y1="732" x2="113" y2="764" stroke="#111" stroke-width="1.68"/>
<line x1="143.7" y1="732" x2="143.5" y2="764" stroke="#222" stroke-width="3.84" stroke-dasharray="1.6 0.7"/>
<line x1="143.7" y1="732" x2="143.5" y2="764" stroke="#111" stroke-width="1.68"/>
<line x1="157.9" y1="732" x2="157.7" y2="764" stroke="#222" stroke-width="3.84" stroke-dasharray="1.6 0.7"/>
<line x1="157.9" y1="732" x2="157.7" y2="764" stroke="#111" stroke-width="1.68"/>
<line x1="188.2" y1="732" x2="188" y2="764" stroke="#222" stroke-width="3.84" stroke-dasharray="1.6 0.7"/>
<line x1="188.2" y1="732" x2="188" y2="764" stroke="#111" stroke-width="1.68"/>
<polyline points="113,764 127.8,794.8 143.5,764" fill="none" stroke="#1a1a1a" stroke-width="1.08"/>
<polyline points="157.7,764 166,794.8 188,764" fill="none" stroke="#1a1a1a" stroke-width="1.08"/>
<line x1="127.8" y1="794.8" x2="166" y2="794.8" stroke="#1a1a1a" stroke-width="1.08"/>
<text x="137.2" y="792.2" font-size="11" text-anchor="start" fill="#1a1a1a" textLength="20.8" lengthAdjust="spacingAndGlyphs"><tspan font-weight="700">植筋</tspan></text>
<line x1="460.3" y1="218.99" x2="461.8" y2="217.6" stroke="#222" stroke-width="1.02"/>
<line x1="460.3" y1="230.66" x2="474.4" y2="217.6" stroke="#222" stroke-width="1.02"/>
<line x1="460.3" y1="242.32" x2="487" y2="217.6" stroke="#222" stroke-width="1.02"/>
<line x1="460.3" y1="253.99" x2="499.6" y2="217.6" stroke="#222" stroke-width="1.02"/>
<line x1="460.3" y1="265.66" x2="512.2" y2="217.6" stroke="#222" stroke-width="1.02"/>
<line x1="462.59" y1="275.2" x2="524.8" y2="217.6" stroke="#222" stroke-width="1.02"/>
<line x1="475.19" y1="275.2" x2="537.4" y2="217.6" stroke="#222" stroke-width="1.02"/>
<line x1="487.79" y1="275.2" x2="538.7" y2="228.06" stroke="#222" stroke-width="1.02"/>
<line x1="500.39" y1="275.2" x2="538.7" y2="239.73" stroke="#222" stroke-width="1.02"/>
<line x1="512.99" y1="275.2" x2="538.7" y2="251.4" stroke="#222" stroke-width="1.02"/>
<line x1="525.59" y1="275.2" x2="538.7" y2="263.06" stroke="#222" stroke-width="1.02"/>
<line x1="538.19" y1="275.2" x2="538.7" y2="274.73" stroke="#222" stroke-width="1.02"/>
<circle cx="472.71" cy="269.71" r="0.4" fill="#777" stroke="none" stroke-width="0"/>
<circle cx="504.89" cy="257.54" r="0.4" fill="#777" stroke="none" stroke-width="0"/>
<circle cx="468.13" cy="221.8" r="0.4" fill="#777" stroke="none" stroke-width="0"/>
<circle cx="513.88" cy="242.25" r="0.4" fill="#777" stroke="none" stroke-width="0"/>
<circle cx="466.83" cy="270.77" r="0.4" fill="#777" stroke="none" stroke-width="0"/>
<circle cx="509.77" cy="263.17" r="0.4" fill="#777" stroke="none" stroke-width="0"/>
<circle cx="467.7" cy="266.21" r="0.4" fill="#777" stroke="none" stroke-width="0"/>
<circle cx="466.39" cy="266.57" r="0.4" fill="#777" stroke="none" stroke-width="0"/>
<circle cx="495.97" cy="237.46" r="0.4" fill="#777" stroke="none" stroke-width="0"/>
<circle cx="503.55" cy="270.12" r="0.4" fill="#777" stroke="none" stroke-width="0"/>
<circle cx="481.76" cy="225.78" r="0.4" fill="#777" stroke="none" stroke-width="0"/>
<circle cx="501.56" cy="231.86" r="0.4" fill="#777" stroke="none" stroke-width="0"/>
<circle cx="469.66" cy="227.58" r="0.4" fill="#777" stroke="none" stroke-width="0"/>
<circle cx="465.15" cy="229.82" r="0.4" fill="#777" stroke="none" stroke-width="0"/>
<circle cx="485.14" cy="235.56" r="0.4" fill="#777" stroke="none" stroke-width="0"/>
<circle cx="519.33" cy="234.72" r="0.4" fill="#777" stroke="none" stroke-width="0"/>
<circle cx="499.51" cy="228.49" r="0.4" fill="#777" stroke="none" stroke-width="0"/>
<circle cx="487.81" cy="219.61" r="0.4" fill="#777" stroke="none" stroke-width="0"/>
<circle cx="480.43" cy="219.45" r="0.4" fill="#777" stroke="none" stroke-width="0"/>
<circle cx="517.31" cy="249.24" r="0.4" fill="#777" stroke="none" stroke-width="0"/>
<circle cx="475.77" cy="245" r="0.4" fill="#777" stroke="none" stroke-width="0"/>
<circle cx="532.71" cy="224.51" r="0.4" fill="#777" stroke="none" stroke-width="0"/>
<circle cx="523.87" cy="242.63" r="0.4" fill="#777" stroke="none" stroke-width="0"/>
<circle cx="499.12" cy="265" r="0.4" fill="#777" stroke="none" stroke-width="0"/>
<circle cx="491.33" cy="246.77" r="0.4" fill="#777" stroke="none" stroke-width="0"/>
<circle cx="513.84" cy="273.22" r="0.4" fill="#777" stroke="none" stroke-width="0"/>
<circle cx="487.48" cy="264.88" r="0.4" fill="#777" stroke="none" stroke-width="0"/>
<circle cx="515.29" cy="253.96" r="0.4" fill="#777" stroke="none" stroke-width="0"/>
<circle cx="492.22" cy="237.92" r="0.4" fill="#777" stroke="none" stroke-width="0"/>
<circle cx="465.46" cy="225.82" r="0.4" fill="#777" stroke="none" stroke-width="0"/>
<circle cx="466.7" cy="259.79" r="0.4" fill="#777" stroke="none" stroke-width="0"/>
<circle cx="480.83" cy="227.68" r="0.4" fill="#777" stroke="none" stroke-width="0"/>
<circle cx="467.75" cy="265.37" r="0.4" fill="#777" stroke="none" stroke-width="0"/>
<circle cx="527.81" cy="255.88" r="0.4" fill="#777" stroke="none" stroke-width="0"/>
<circle cx="482.84" cy="232.07" r="0.4" fill="#777" stroke="none" stroke-width="0"/>
<circle cx="483.69" cy="244.15" r="0.4" fill="#777" stroke="none" stroke-width="0"/>
<circle cx="473.34" cy="243.39" r="0.4" fill="#777" stroke="none" stroke-width="0"/>
<circle cx="481.41" cy="272.08" r="0.4" fill="#777" stroke="none" stroke-width="0"/>
<circle cx="535.61" cy="249.02" r="0.4" fill="#777" stroke="none" stroke-width="0"/>
<circle cx="479.98" cy="272.29" r="0.4" fill="#777" stroke="none" stroke-width="0"/>
<circle cx="484.95" cy="238.43" r="0.4" fill="#777" stroke="none" stroke-width="0"/>
<circle cx="461.38" cy="239.82" r="0.4" fill="#777" stroke="none" stroke-width="0"/>
<circle cx="497.56" cy="246.55" r="0.4" fill="#777" stroke="none" stroke-width="0"/>
<circle cx="476.65" cy="246.66" r="0.4" fill="#777" stroke="none" stroke-width="0"/>
<circle cx="461.68" cy="233.29" r="0.4" fill="#777" stroke="none" stroke-width="0"/>
<circle cx="468.16" cy="240.81" r="0.4" fill="#777" stroke="none" stroke-width="0"/>
<circle cx="464.48" cy="219.85" r="0.4" fill="#777" stroke="none" stroke-width="0"/>
<circle cx="484.54" cy="231.54" r="0.4" fill="#777" stroke="none" stroke-width="0"/>
<circle cx="506.04" cy="248.02" r="0.4" fill="#777" stroke="none" stroke-width="0"/>
<circle cx="518.64" cy="255.16" r="0.4" fill="#777" stroke="none" stroke-width="0"/>
<circle cx="516" cy="267.48" r="0.4" fill="#777" stroke="none" stroke-width="0"/>
<circle cx="491.06" cy="236.73" r="0.4" fill="#777" stroke="none" stroke-width="0"/>
<circle cx="536.53" cy="226.91" r="0.4" fill="#777" stroke="none" stroke-width="0"/>
<circle cx="516.63" cy="254.36" r="0.4" fill="#777" stroke="none" stroke-width="0"/>
<circle cx="464.65" cy="265.04" r="0.4" fill="#777" stroke="none" stroke-width="0"/>
<circle cx="529.44" cy="253.48" r="0.4" fill="#777" stroke="none" stroke-width="0"/>
<circle cx="517.37" cy="263.76" r="0.4" fill="#777" stroke="none" stroke-width="0"/>
<circle cx="471.94" cy="247.72" r="0.4" fill="#777" stroke="none" stroke-width="0"/>
<circle cx="499.83" cy="265.02" r="0.4" fill="#777" stroke="none" stroke-width="0"/>
<circle cx="522.78" cy="264.55" r="0.4" fill="#777" stroke="none" stroke-width="0"/>
<circle cx="505.92" cy="268.24" r="0.4" fill="#777" stroke="none" stroke-width="0"/>
<circle cx="513.47" cy="257.15" r="0.4" fill="#777" stroke="none" stroke-width="0"/>
<circle cx="478.87" cy="220.33" r="0.4" fill="#777" stroke="none" stroke-width="0"/>
<circle cx="471.47" cy="238.66" r="0.4" fill="#777" stroke="none" stroke-width="0"/>
<circle cx="469.32" cy="265.07" r="0.4" fill="#777" stroke="none" stroke-width="0"/>
<circle cx="503.97" cy="253.5" r="0.4" fill="#777" stroke="none" stroke-width="0"/>
<circle cx="509.14" cy="256.44" r="0.4" fill="#777" stroke="none" stroke-width="0"/>
<circle cx="498.68" cy="218.78" r="0.4" fill="#777" stroke="none" stroke-width="0"/>
<circle cx="522.24" cy="260.2" r="0.4" fill="#777" stroke="none" stroke-width="0"/>
<circle cx="499.73" cy="248.36" r="0.4" fill="#777" stroke="none" stroke-width="0"/>
<circle cx="511.67" cy="222.27" r="0.4" fill="#777" stroke="none" stroke-width="0"/>
<circle cx="517.59" cy="232.62" r="0.4" fill="#777" stroke="none" stroke-width="0"/>
<circle cx="466.99" cy="233.37" r="0.4" fill="#777" stroke="none" stroke-width="0"/>
<circle cx="517.02" cy="230.01" r="0.4" fill="#777" stroke="none" stroke-width="0"/>
<circle cx="517.82" cy="272.85" r="0.4" fill="#777" stroke="none" stroke-width="0"/>
<circle cx="499.04" cy="239.87" r="0.4" fill="#777" stroke="none" stroke-width="0"/>
<circle cx="497.9" cy="256.61" r="0.4" fill="#777" stroke="none" stroke-width="0"/>
<circle cx="519.9" cy="252.9" r="0.4" fill="#777" stroke="none" stroke-width="0"/>
<circle cx="510.41" cy="222.91" r="0.4" fill="#777" stroke="none" stroke-width="0"/>
<circle cx="472.56" cy="232.72" r="0.4" fill="#777" stroke="none" stroke-width="0"/>
<circle cx="518.08" cy="235.53" r="0.4" fill="#777" stroke="none" stroke-width="0"/>
<circle cx="504.68" cy="219.29" r="0.4" fill="#777" stroke="none" stroke-width="0"/>
<circle cx="465.93" cy="233.54" r="0.4" fill="#777" stroke="none" stroke-width="0"/>
<circle cx="512.64" cy="257.09" r="0.4" fill="#777" stroke="none" stroke-width="0"/>
<circle cx="512.92" cy="234.77" r="0.4" fill="#777" stroke="none" stroke-width="0"/>
<circle cx="500.76" cy="244.44" r="0.4" fill="#777" stroke="none" stroke-width="0"/>
<circle cx="496.93" cy="225.19" r="0.4" fill="#777" stroke="none" stroke-width="0"/>
<circle cx="529.58" cy="229.68" r="0.4" fill="#777" stroke="none" stroke-width="0"/>
<circle cx="536.03" cy="270.66" r="0.4" fill="#777" stroke="none" stroke-width="0"/>
<circle cx="462.64" cy="244.12" r="0.4" fill="#777" stroke="none" stroke-width="0"/>
<circle cx="523.94" cy="272.43" r="0.4" fill="#777" stroke="none" stroke-width="0"/>
<circle cx="495.64" cy="233.54" r="0.4" fill="#777" stroke="none" stroke-width="0"/>
<circle cx="477.33" cy="271.17" r="0.4" fill="#777" stroke="none" stroke-width="0"/>
<circle cx="477.4" cy="250.93" r="0.4" fill="#777" stroke="none" stroke-width="0"/>
<circle cx="472.13" cy="247.74" r="0.4" fill="#777" stroke="none" stroke-width="0"/>
<circle cx="534.09" cy="225.97" r="0.4" fill="#777" stroke="none" stroke-width="0"/>
<circle cx="523.96" cy="246.89" r="0.4" fill="#777" stroke="none" stroke-width="0"/>
<circle cx="529.06" cy="257.71" r="0.4" fill="#777" stroke="none" stroke-width="0"/>
<circle cx="478.98" cy="268.51" r="0.4" fill="#777" stroke="none" stroke-width="0"/>
<circle cx="498.44" cy="219.98" r="0.4" fill="#777" stroke="none" stroke-width="0"/>
<circle cx="461.57" cy="245.94" r="0.4" fill="#777" stroke="none" stroke-width="0"/>
<circle cx="495.74" cy="235.39" r="0.4" fill="#777" stroke="none" stroke-width="0"/>
<circle cx="472.05" cy="237.72" r="0.4" fill="#777" stroke="none" stroke-width="0"/>
<circle cx="485.45" cy="265.32" r="0.4" fill="#777" stroke="none" stroke-width="0"/>
<circle cx="461.43" cy="260.34" r="0.4" fill="#777" stroke="none" stroke-width="0"/>
<circle cx="525.41" cy="225.27" r="0.4" fill="#777" stroke="none" stroke-width="0"/>
<circle cx="532.08" cy="258.24" r="0.4" fill="#777" stroke="none" stroke-width="0"/>
<circle cx="530.18" cy="234.71" r="0.4" fill="#777" stroke="none" stroke-width="0"/>
<circle cx="489.74" cy="240.45" r="0.4" fill="#777" stroke="none" stroke-width="0"/>
<circle cx="537.61" cy="251.36" r="0.4" fill="#777" stroke="none" stroke-width="0"/>
<ellipse cx="467.36" cy="233.15" rx="1.5" ry="1.72" fill="#666" stroke="#111" stroke-width="1" transform="rotate(25 467.36 233.15)"/>
<ellipse cx="475.98" cy="241.79" rx="1.5" ry="1.72" fill="#666" stroke="#111" stroke-width="1" transform="rotate(25 475.98 241.79)"/>
<ellipse cx="493.23" cy="234.88" rx="1.5" ry="1.72" fill="#666" stroke="#111" stroke-width="1" transform="rotate(25 493.23 234.88)"/>
<ellipse cx="487.74" cy="249.28" rx="1.5" ry="1.72" fill="#666" stroke="#111" stroke-width="1" transform="rotate(25 487.74 249.28)"/>
<ellipse cx="481.47" cy="264.83" rx="1.5" ry="1.72" fill="#666" stroke="#111" stroke-width="1" transform="rotate(25 481.47 264.83)"/>
<ellipse cx="507.34" cy="256.77" rx="1.5" ry="1.72" fill="#666" stroke="#111" stroke-width="1" transform="rotate(25 507.34 256.77)"/>
<ellipse cx="516.75" cy="226.24" rx="1.5" ry="1.72" fill="#666" stroke="#111" stroke-width="1" transform="rotate(25 516.75 226.24)"/>
<ellipse cx="533.21" cy="233.73" rx="1.5" ry="1.72" fill="#666" stroke="#111" stroke-width="1" transform="rotate(25 533.21 233.73)"/>
<ellipse cx="524.59" cy="253.31" rx="1.5" ry="1.72" fill="#666" stroke="#111" stroke-width="1" transform="rotate(25 524.59 253.31)"/>
<ellipse cx="518.32" cy="267.14" rx="1.5" ry="1.72" fill="#666" stroke="#111" stroke-width="1" transform="rotate(25 518.32 267.14)"/>
<ellipse cx="499.5" cy="272.32" rx="1.5" ry="1.72" fill="#666" stroke="#111" stroke-width="1" transform="rotate(25 499.5 272.32)"/>
<ellipse cx="468.14" cy="271.17" rx="1.5" ry="1.72" fill="#666" stroke="#111" stroke-width="1" transform="rotate(25 468.14 271.17)"/>
<ellipse cx="533.21" cy="271.17" rx="1.5" ry="1.72" fill="#666" stroke="#111" stroke-width="1" transform="rotate(25 533.21 271.17)"/>
<rect x="460.3" y="217.6" width="78.4" height="57.6" fill="none" stroke="#111" stroke-width="1.08"/>
<polygon points="456,213.8 474.5,213.8 472.5,217.6 460.3,217.6 460.3,230.3 456,232.3" fill="#111" stroke="#111" stroke-width="0.48"/>
<polygon points="542.5,213.8 524,213.8 526,217.6 538.7,217.6 538.7,230.3 542.5,232.3" fill="#111" stroke="#111" stroke-width="0.48"/>
<polygon points="456,278.7 474.5,278.7 472.5,275.2 460.3,275.2 460.3,262.2 456,260.2" fill="#111" stroke="#111" stroke-width="0.48"/>
<polygon points="542.5,278.7 524,278.7 526,275.2 538.7,275.2 538.7,262.2 542.5,260.2" fill="#111" stroke="#111" stroke-width="0.48"/>
<rect x="456.4" y="214.2" width="85.7" height="64.1" fill="none" stroke="#111" stroke-width="1.92"/>
<rect x="463.5" y="210.4" width="70.5" height="3.4" fill="none" stroke="#1a1a1a" stroke-width="1.08"/>
<rect x="463.5" y="278.7" width="70.5" height="4.5" fill="none" stroke="#1a1a1a" stroke-width="1.08"/>
<rect x="452.3" y="221.3" width="3.7" height="50.7" fill="none" stroke="#1a1a1a" stroke-width="1.08"/>
<rect x="542.5" y="221.3" width="3.8" height="50.7" fill="none" stroke="#1a1a1a" stroke-width="1.08"/>
<polyline points="376.7,183 376.7,170.2 388.7,183" fill="none" stroke="#1a1a1a" stroke-width="1.68"/>
<polyline points="375.7,183 443,183 462.7,212.6" fill="none" stroke="#1a1a1a" stroke-width="0.96"/>
<text x="396" y="180.3" font-size="11" text-anchor="start" fill="#333" textLength="23.3" lengthAdjust="spacingAndGlyphs"><tspan font-size="11.99" font-style="italic">h</tspan><tspan font-size="8.58" dy="2.64">f</tspan><tspan font-size="11.99" dy="-2.64"> =6</tspan></text>
<text x="551.1" y="180.6" font-size="11" text-anchor="start" fill="#333" textLength="40.2" lengthAdjust="spacingAndGlyphs"><tspan font-size="11.99">4</tspan><tspan font-size="11.99" font-family="Liberation Sans,sans-serif" font-weight="400">L</tspan><tspan font-size="11.99">75×6</tspan></text>
<line x1="549.5" y1="183.5" x2="595.3" y2="183.5" stroke="#333" stroke-width="1.08"/>
<line x1="549.5" y1="183.5" x2="537.1" y2="213.2" stroke="#1a1a1a" stroke-width="1.08"/>
<text x="409.3" y="252.6" font-size="11" text-anchor="start" fill="#1a1a1a" textLength="21.4" lengthAdjust="spacingAndGlyphs"><tspan font-weight="700">注胶</tspan></text>
<line x1="403.6" y1="255.2" x2="477.6" y2="255.2" stroke="#555" stroke-width="1.08"/>
<line x1="544" y1="214.2" x2="575.2" y2="214.2" stroke="#444" stroke-width="0.84"/>
<line x1="544" y1="281" x2="573.5" y2="281" stroke="#777" stroke-width="0.84"/>
<line x1="570.2" y1="211.5" x2="569.4" y2="284" stroke="#333" stroke-width="0.96"/>
<circle cx="570.2" cy="214.2" r="1" fill="#1a1a1a" stroke="none" stroke-width="0"/>
<circle cx="569.4" cy="281" r="1" fill="#1a1a1a" stroke="none" stroke-width="0"/>
<text x="568" y="249.3" font-size="11" text-anchor="middle" fill="#333" textLength="16" lengthAdjust="spacingAndGlyphs" transform="rotate(-90 568 249.3)"><tspan font-size="11.99">300</tspan></text>
<line x1="455.5" y1="292.6" x2="455.5" y2="315.9" stroke="#444" stroke-width="0.84"/>
<line x1="541.8" y1="292.6" x2="541.8" y2="315.9" stroke="#444" stroke-width="0.84"/>
<line x1="453" y1="312.1" x2="544" y2="312.1" stroke="#333" stroke-width="0.96"/>
<circle cx="455.5" cy="312.1" r="1" fill="#1a1a1a" stroke="none" stroke-width="0"/>
<circle cx="541.8" cy="312.1" r="1" fill="#1a1a1a" stroke="none" stroke-width="0"/>
<text x="500.5" y="310.2" font-size="11" text-anchor="middle" fill="#333" textLength="15.5" lengthAdjust="spacingAndGlyphs"><tspan font-size="11.99">400</tspan></text>
<text x="574.1" y="295" font-size="11" text-anchor="start" fill="#1a1a1a" textLength="54.6" lengthAdjust="spacingAndGlyphs"><tspan font-weight="700">缀板</tspan><tspan font-size="11.99">−50×5</tspan></text>
<line x1="568.8" y1="298.8" x2="638" y2="298.8" stroke="#555" stroke-width="1.08"/>
<text x="578.7" y="310.6" font-size="11" text-anchor="start" fill="#333" textLength="47.5" lengthAdjust="spacingAndGlyphs"><tspan font-size="11.99">@150/250</tspan></text>
<line x1="568.8" y1="298.8" x2="509.8" y2="283.3" stroke="#1a1a1a" stroke-width="0.96"/>
<line x1="568.8" y1="298.8" x2="547" y2="269.3" stroke="#1a1a1a" stroke-width="0.96"/>
<text x="501.6" y="340.2" font-size="11" text-anchor="middle" fill="#1a1a1a" textLength="20.8" lengthAdjust="spacingAndGlyphs"><tspan font-size="11.99">1—1</tspan></text>
<line x1="487.2" y1="343.2" x2="517" y2="343.2" stroke="#333" stroke-width="1.2"/>
<line x1="459.2" y1="416.23" x2="464.2" y2="411.6" stroke="#222" stroke-width="1.02"/>
<line x1="459.2" y1="427.9" x2="476.8" y2="411.6" stroke="#222" stroke-width="1.02"/>
<line x1="459.2" y1="439.56" x2="489.4" y2="411.6" stroke="#222" stroke-width="1.02"/>
<line x1="459.2" y1="451.23" x2="502" y2="411.6" stroke="#222" stroke-width="1.02"/>
<line x1="459.2" y1="462.9" x2="514.6" y2="411.6" stroke="#222" stroke-width="1.02"/>
<line x1="463.8" y1="470.3" x2="527.2" y2="411.6" stroke="#222" stroke-width="1.02"/>
<line x1="476.4" y1="470.3" x2="538.2" y2="413.08" stroke="#222" stroke-width="1.02"/>
<line x1="489" y1="470.3" x2="538.2" y2="424.75" stroke="#222" stroke-width="1.02"/>
<line x1="501.6" y1="470.3" x2="538.2" y2="436.41" stroke="#222" stroke-width="1.02"/>
<line x1="514.2" y1="470.3" x2="538.2" y2="448.08" stroke="#222" stroke-width="1.02"/>
<line x1="526.8" y1="470.3" x2="538.2" y2="459.75" stroke="#222" stroke-width="1.02"/>
<circle cx="487.97" cy="436.87" r="0.4" fill="#777" stroke="none" stroke-width="0"/>
<circle cx="481.39" cy="415.34" r="0.4" fill="#777" stroke="none" stroke-width="0"/>
<circle cx="468.03" cy="459.93" r="0.4" fill="#777" stroke="none" stroke-width="0"/>
<circle cx="482.19" cy="465.65" r="0.4" fill="#777" stroke="none" stroke-width="0"/>
<circle cx="479.4" cy="427.67" r="0.4" fill="#777" stroke="none" stroke-width="0"/>
<circle cx="499.54" cy="423.36" r="0.4" fill="#777" stroke="none" stroke-width="0"/>
<circle cx="488.95" cy="466.81" r="0.4" fill="#777" stroke="none" stroke-width="0"/>
<circle cx="528.29" cy="458.64" r="0.4" fill="#777" stroke="none" stroke-width="0"/>
<circle cx="508.78" cy="464.39" r="0.4" fill="#777" stroke="none" stroke-width="0"/>
<circle cx="532.63" cy="443.74" r="0.4" fill="#777" stroke="none" stroke-width="0"/>
<circle cx="515.61" cy="415.41" r="0.4" fill="#777" stroke="none" stroke-width="0"/>
<circle cx="516.59" cy="438.16" r="0.4" fill="#777" stroke="none" stroke-width="0"/>
<circle cx="518.16" cy="449.14" r="0.4" fill="#777" stroke="none" stroke-width="0"/>
<circle cx="482.24" cy="415.38" r="0.4" fill="#777" stroke="none" stroke-width="0"/>
<circle cx="531.56" cy="419.82" r="0.4" fill="#777" stroke="none" stroke-width="0"/>
<circle cx="496.56" cy="432.09" r="0.4" fill="#777" stroke="none" stroke-width="0"/>
<circle cx="483.13" cy="454.5" r="0.4" fill="#777" stroke="none" stroke-width="0"/>
<circle cx="535.37" cy="427.35" r="0.4" fill="#777" stroke="none" stroke-width="0"/>
<circle cx="510.71" cy="429.66" r="0.4" fill="#777" stroke="none" stroke-width="0"/>
<circle cx="503.11" cy="434.96" r="0.4" fill="#777" stroke="none" stroke-width="0"/>
<circle cx="473.08" cy="421.77" r="0.4" fill="#777" stroke="none" stroke-width="0"/>
<circle cx="476.21" cy="463.97" r="0.4" fill="#777" stroke="none" stroke-width="0"/>
<circle cx="498.47" cy="425.08" r="0.4" fill="#777" stroke="none" stroke-width="0"/>
<circle cx="529.98" cy="469.1" r="0.4" fill="#777" stroke="none" stroke-width="0"/>
<circle cx="494.85" cy="420.52" r="0.4" fill="#777" stroke="none" stroke-width="0"/>
<circle cx="475.02" cy="417.74" r="0.4" fill="#777" stroke="none" stroke-width="0"/>
<circle cx="486.53" cy="417.77" r="0.4" fill="#777" stroke="none" stroke-width="0"/>
<circle cx="478.61" cy="427.25" r="0.4" fill="#777" stroke="none" stroke-width="0"/>
<circle cx="504.06" cy="462.91" r="0.4" fill="#777" stroke="none" stroke-width="0"/>
<circle cx="517.92" cy="436" r="0.4" fill="#777" stroke="none" stroke-width="0"/>
<circle cx="492.07" cy="442.32" r="0.4" fill="#777" stroke="none" stroke-width="0"/>
<circle cx="489.22" cy="431.78" r="0.4" fill="#777" stroke="none" stroke-width="0"/>
<circle cx="464.98" cy="428.34" r="0.4" fill="#777" stroke="none" stroke-width="0"/>
<circle cx="534.71" cy="419.74" r="0.4" fill="#777" stroke="none" stroke-width="0"/>
<circle cx="498.96" cy="448.3" r="0.4" fill="#777" stroke="none" stroke-width="0"/>
<circle cx="526.64" cy="424.85" r="0.4" fill="#777" stroke="none" stroke-width="0"/>
<circle cx="481.07" cy="426.69" r="0.4" fill="#777" stroke="none" stroke-width="0"/>
<circle cx="490.98" cy="437.88" r="0.4" fill="#777" stroke="none" stroke-width="0"/>
<circle cx="533.65" cy="460.72" r="0.4" fill="#777" stroke="none" stroke-width="0"/>
<circle cx="527.41" cy="413.84" r="0.4" fill="#777" stroke="none" stroke-width="0"/>
<circle cx="462.68" cy="452.83" r="0.4" fill="#777" stroke="none" stroke-width="0"/>
<circle cx="529.17" cy="439.43" r="0.4" fill="#777" stroke="none" stroke-width="0"/>
<circle cx="505.41" cy="412.61" r="0.4" fill="#777" stroke="none" stroke-width="0"/>
<circle cx="490.35" cy="465.15" r="0.4" fill="#777" stroke="none" stroke-width="0"/>
<circle cx="523.77" cy="461.1" r="0.4" fill="#777" stroke="none" stroke-width="0"/>
<circle cx="535.06" cy="426.69" r="0.4" fill="#777" stroke="none" stroke-width="0"/>
<circle cx="468.6" cy="421.35" r="0.4" fill="#777" stroke="none" stroke-width="0"/>
<circle cx="500.42" cy="451.27" r="0.4" fill="#777" stroke="none" stroke-width="0"/>
<circle cx="532.69" cy="453.52" r="0.4" fill="#777" stroke="none" stroke-width="0"/>
<circle cx="510.05" cy="455.96" r="0.4" fill="#777" stroke="none" stroke-width="0"/>
<circle cx="495.41" cy="443.87" r="0.4" fill="#777" stroke="none" stroke-width="0"/>
<circle cx="463.25" cy="456.96" r="0.4" fill="#777" stroke="none" stroke-width="0"/>
<circle cx="478.11" cy="464.76" r="0.4" fill="#777" stroke="none" stroke-width="0"/>
<circle cx="509.9" cy="429.82" r="0.4" fill="#777" stroke="none" stroke-width="0"/>
<circle cx="470.05" cy="426.88" r="0.4" fill="#777" stroke="none" stroke-width="0"/>
<circle cx="509.19" cy="452.21" r="0.4" fill="#777" stroke="none" stroke-width="0"/>
<circle cx="468.83" cy="416.59" r="0.4" fill="#777" stroke="none" stroke-width="0"/>
<circle cx="500.58" cy="445.65" r="0.4" fill="#777" stroke="none" stroke-width="0"/>
<circle cx="490.08" cy="425.28" r="0.4" fill="#777" stroke="none" stroke-width="0"/>
<circle cx="506.48" cy="413.19" r="0.4" fill="#777" stroke="none" stroke-width="0"/>
<circle cx="483.42" cy="438.72" r="0.4" fill="#777" stroke="none" stroke-width="0"/>
<circle cx="534.04" cy="449.15" r="0.4" fill="#777" stroke="none" stroke-width="0"/>
<circle cx="528.25" cy="439.55" r="0.4" fill="#777" stroke="none" stroke-width="0"/>
<circle cx="478.28" cy="426.61" r="0.4" fill="#777" stroke="none" stroke-width="0"/>
<circle cx="534.17" cy="452.55" r="0.4" fill="#777" stroke="none" stroke-width="0"/>
<circle cx="483.87" cy="413.84" r="0.4" fill="#777" stroke="none" stroke-width="0"/>
<circle cx="498.57" cy="450.84" r="0.4" fill="#777" stroke="none" stroke-width="0"/>
<circle cx="492.54" cy="427.19" r="0.4" fill="#777" stroke="none" stroke-width="0"/>
<circle cx="511.59" cy="465.06" r="0.4" fill="#777" stroke="none" stroke-width="0"/>
<circle cx="477.66" cy="414.53" r="0.4" fill="#777" stroke="none" stroke-width="0"/>
<circle cx="486.23" cy="436.45" r="0.4" fill="#777" stroke="none" stroke-width="0"/>
<circle cx="512.76" cy="423.83" r="0.4" fill="#777" stroke="none" stroke-width="0"/>
<circle cx="521.57" cy="454.51" r="0.4" fill="#777" stroke="none" stroke-width="0"/>
<circle cx="499.08" cy="424.24" r="0.4" fill="#777" stroke="none" stroke-width="0"/>
<circle cx="534.88" cy="430.27" r="0.4" fill="#777" stroke="none" stroke-width="0"/>
<circle cx="523.34" cy="425.69" r="0.4" fill="#777" stroke="none" stroke-width="0"/>
<circle cx="477.25" cy="455.72" r="0.4" fill="#777" stroke="none" stroke-width="0"/>
<circle cx="482.91" cy="466.57" r="0.4" fill="#777" stroke="none" stroke-width="0"/>
<circle cx="498.37" cy="423.22" r="0.4" fill="#777" stroke="none" stroke-width="0"/>
<circle cx="477.4" cy="436.25" r="0.4" fill="#777" stroke="none" stroke-width="0"/>
<circle cx="511.43" cy="466.39" r="0.4" fill="#777" stroke="none" stroke-width="0"/>
<circle cx="471.47" cy="434.91" r="0.4" fill="#777" stroke="none" stroke-width="0"/>
<circle cx="476.6" cy="467.83" r="0.4" fill="#777" stroke="none" stroke-width="0"/>
<circle cx="471.13" cy="415.54" r="0.4" fill="#777" stroke="none" stroke-width="0"/>
<circle cx="464.83" cy="434.9" r="0.4" fill="#777" stroke="none" stroke-width="0"/>
<circle cx="529.36" cy="462.7" r="0.4" fill="#777" stroke="none" stroke-width="0"/>
<circle cx="516.62" cy="469.16" r="0.4" fill="#777" stroke="none" stroke-width="0"/>
<circle cx="531.93" cy="431.27" r="0.4" fill="#777" stroke="none" stroke-width="0"/>
<circle cx="474.48" cy="465.66" r="0.4" fill="#777" stroke="none" stroke-width="0"/>
<circle cx="517.67" cy="414.41" r="0.4" fill="#777" stroke="none" stroke-width="0"/>
<circle cx="511.36" cy="434.07" r="0.4" fill="#777" stroke="none" stroke-width="0"/>
<circle cx="488.99" cy="431.41" r="0.4" fill="#777" stroke="none" stroke-width="0"/>
<circle cx="473.23" cy="412.76" r="0.4" fill="#777" stroke="none" stroke-width="0"/>
<circle cx="481.75" cy="432.53" r="0.4" fill="#777" stroke="none" stroke-width="0"/>
<circle cx="533.77" cy="419.61" r="0.4" fill="#777" stroke="none" stroke-width="0"/>
<circle cx="534.45" cy="424.36" r="0.4" fill="#777" stroke="none" stroke-width="0"/>
<circle cx="487.66" cy="459.18" r="0.4" fill="#777" stroke="none" stroke-width="0"/>
<circle cx="523.49" cy="437.12" r="0.4" fill="#777" stroke="none" stroke-width="0"/>
<circle cx="463.99" cy="439.45" r="0.4" fill="#777" stroke="none" stroke-width="0"/>
<circle cx="488.9" cy="464.74" r="0.4" fill="#777" stroke="none" stroke-width="0"/>
<circle cx="475.06" cy="433.25" r="0.4" fill="#777" stroke="none" stroke-width="0"/>
<circle cx="529.27" cy="414.32" r="0.4" fill="#777" stroke="none" stroke-width="0"/>
<circle cx="491.83" cy="458.63" r="0.4" fill="#777" stroke="none" stroke-width="0"/>
<circle cx="519.23" cy="414.9" r="0.4" fill="#777" stroke="none" stroke-width="0"/>
<circle cx="462.88" cy="416.15" r="0.4" fill="#777" stroke="none" stroke-width="0"/>
<circle cx="531.05" cy="427.17" r="0.4" fill="#777" stroke="none" stroke-width="0"/>
<circle cx="517.74" cy="463.55" r="0.4" fill="#777" stroke="none" stroke-width="0"/>
<circle cx="486.31" cy="428.04" r="0.4" fill="#777" stroke="none" stroke-width="0"/>
<circle cx="533.94" cy="447.58" r="0.4" fill="#777" stroke="none" stroke-width="0"/>
<circle cx="480.39" cy="453.23" r="0.4" fill="#777" stroke="none" stroke-width="0"/>
<ellipse cx="466.31" cy="427.45" rx="1.5" ry="1.72" fill="#666" stroke="#111" stroke-width="1" transform="rotate(25 466.31 427.45)"/>
<ellipse cx="475" cy="436.25" rx="1.5" ry="1.72" fill="#666" stroke="#111" stroke-width="1" transform="rotate(25 475 436.25)"/>
<ellipse cx="492.38" cy="429.21" rx="1.5" ry="1.72" fill="#666" stroke="#111" stroke-width="1" transform="rotate(25 492.38 429.21)"/>
<ellipse cx="486.85" cy="443.88" rx="1.5" ry="1.72" fill="#666" stroke="#111" stroke-width="1" transform="rotate(25 486.85 443.88)"/>
<ellipse cx="480.53" cy="459.73" rx="1.5" ry="1.72" fill="#666" stroke="#111" stroke-width="1" transform="rotate(25 480.53 459.73)"/>
<ellipse cx="506.6" cy="451.52" rx="1.5" ry="1.72" fill="#666" stroke="#111" stroke-width="1" transform="rotate(25 506.6 451.52)"/>
<ellipse cx="516.08" cy="420.41" rx="1.5" ry="1.72" fill="#666" stroke="#111" stroke-width="1" transform="rotate(25 516.08 420.41)"/>
<ellipse cx="532.67" cy="428.04" rx="1.5" ry="1.72" fill="#666" stroke="#111" stroke-width="1" transform="rotate(25 532.67 428.04)"/>
<ellipse cx="523.98" cy="447.99" rx="1.5" ry="1.72" fill="#666" stroke="#111" stroke-width="1" transform="rotate(25 523.98 447.99)"/>
<ellipse cx="517.66" cy="462.08" rx="1.5" ry="1.72" fill="#666" stroke="#111" stroke-width="1" transform="rotate(25 517.66 462.08)"/>
<ellipse cx="498.7" cy="467.37" rx="1.5" ry="1.72" fill="#666" stroke="#111" stroke-width="1" transform="rotate(25 498.7 467.37)"/>
<ellipse cx="467.1" cy="466.19" rx="1.5" ry="1.72" fill="#666" stroke="#111" stroke-width="1" transform="rotate(25 467.1 466.19)"/>
<ellipse cx="532.67" cy="466.19" rx="1.5" ry="1.72" fill="#666" stroke="#111" stroke-width="1" transform="rotate(25 532.67 466.19)"/>
<rect x="459.2" y="411.6" width="79" height="58.7" fill="none" stroke="#111" stroke-width="1.08"/>
<polygon points="454.7,407.8 473.2,407.8 471.2,411.6 459.2,411.6 459.2,424.3 454.7,426.3" fill="#111" stroke="#111" stroke-width="0.48"/>
<polygon points="541.6,407.8 523.1,407.8 525.1,411.6 538.2,411.6 538.2,424.3 541.6,426.3" fill="#111" stroke="#111" stroke-width="0.48"/>
<polygon points="454.7,473.5 473.2,473.5 471.2,470.3 459.2,470.3 459.2,457 454.7,455" fill="#111" stroke="#111" stroke-width="0.48"/>
<polygon points="541.6,473.5 523.1,473.5 525.1,470.3 538.2,470.3 538.2,457 541.6,455" fill="#111" stroke="#111" stroke-width="0.48"/>
<rect x="455.1" y="408.2" width="86.1" height="64.9" fill="none" stroke="#111" stroke-width="1.92"/>
<rect x="462.6" y="396.6" width="70.5" height="11.2" fill="none" stroke="#1a1a1a" stroke-width="1.08"/>
<rect x="462.6" y="473.5" width="70.5" height="11.8" fill="none" stroke="#1a1a1a" stroke-width="1.08"/>
<rect x="450.3" y="414.8" width="4.4" height="52.7" fill="none" stroke="#1a1a1a" stroke-width="1.08"/>
<rect x="541.6" y="414.8" width="3.4" height="52.7" fill="none" stroke="#1a1a1a" stroke-width="1.08"/>
<ellipse cx="484.8" cy="402.2" rx="1.9" ry="1.5" fill="#fff" stroke="#1a1a1a" stroke-width="1.1"/>
<ellipse cx="511.5" cy="402.2" rx="1.9" ry="1.5" fill="#fff" stroke="#1a1a1a" stroke-width="1.1"/>
<ellipse cx="484.8" cy="479.3" rx="1.9" ry="1.5" fill="#fff" stroke="#1a1a1a" stroke-width="1.1"/>
<ellipse cx="511.5" cy="479.3" rx="1.9" ry="1.5" fill="#fff" stroke="#1a1a1a" stroke-width="1.1"/>
<line x1="462.5" y1="416.5" x2="467.5" y2="421.5" stroke="#1a1a1a" stroke-width="1.08"/>
<line x1="467.5" y1="416.5" x2="462.5" y2="421.5" stroke="#1a1a1a" stroke-width="1.08"/>
<circle cx="465" cy="419" r="1.1" fill="#1a1a1a" stroke="none" stroke-width="0"/>
<polyline points="375.4,380.4 375.4,367.8 387.3,380.4" fill="none" stroke="#1a1a1a" stroke-width="1.68"/>
<polyline points="374.4,380.4 441.2,380.4 462.5,407.7" fill="none" stroke="#1a1a1a" stroke-width="0.96"/>
<line x1="441.2" y1="380.4" x2="454" y2="413.3" stroke="#1a1a1a" stroke-width="1.08"/>
<text x="392.3" y="377.6" font-size="11" text-anchor="start" fill="#333" textLength="23.7" lengthAdjust="spacingAndGlyphs"><tspan font-size="11.99" font-style="italic">h</tspan><tspan font-size="8.58" dy="2.64">f</tspan><tspan font-size="11.99" dy="-2.64"> =6</tspan></text>
<text x="413.6" y="421.6" font-size="11" text-anchor="start" fill="#1a1a1a" textLength="21.6" lengthAdjust="spacingAndGlyphs"><tspan font-weight="700">注胶</tspan></text>
<line x1="408.5" y1="425" x2="469.5" y2="425" stroke="#333" stroke-width="1.08"/>
<text x="368.5" y="452.8" font-size="11" text-anchor="start" fill="#1a1a1a" textLength="78.4" lengthAdjust="spacingAndGlyphs"><tspan font-weight="700">加强缀板</tspan><tspan font-size="11.99">−80×6</tspan></text>
<line x1="368" y1="455" x2="452.2" y2="455" stroke="#333" stroke-width="1.08"/>
<text x="549" y="452.8" font-size="11" text-anchor="start" fill="#333" textLength="76.2" lengthAdjust="spacingAndGlyphs"><tspan font-size="11.99">加强缀板−80×6</tspan></text>
<line x1="543.7" y1="455.7" x2="626.9" y2="455.7" stroke="#555" stroke-width="1.08"/>
<text x="550" y="375.2" font-size="11" text-anchor="start" fill="#333" textLength="31" lengthAdjust="spacingAndGlyphs"><tspan font-size="11.99" font-family="Liberation Sans,sans-serif" font-weight="400">L</tspan><tspan font-size="11.99">75×6</tspan></text>
<line x1="547.2" y1="377.2" x2="583.3" y2="377.2" stroke="#333" stroke-width="1.08"/>
<line x1="547.2" y1="377.2" x2="529.7" y2="401" stroke="#1a1a1a" stroke-width="1.08"/>
<text x="573" y="505.8" font-size="11" text-anchor="start" fill="#333" textLength="30.7" lengthAdjust="spacingAndGlyphs"><tspan font-size="11.99" font-family="Liberation Sans,sans-serif" font-weight="400">L</tspan><tspan font-size="11.99">75×6</tspan></text>
<line x1="567.4" y1="508.1" x2="607.3" y2="508.1" stroke="#333" stroke-width="1.08"/>
<line x1="567.4" y1="508.1" x2="521.4" y2="481.6" stroke="#1a1a1a" stroke-width="1.08"/>
<text x="389.2" y="512" font-size="11" text-anchor="start" fill="#1a1a1a" textLength="69.5" lengthAdjust="spacingAndGlyphs"><tspan font-size="11.99">2M16</tspan><tspan font-weight="700">胶锚螺栓</tspan></text>
<line x1="387.8" y1="515.6" x2="463.4" y2="515.6" stroke="#333" stroke-width="1.08"/>
<line x1="463.4" y1="515.6" x2="484.3" y2="480.5" stroke="#1a1a1a" stroke-width="1.08"/>
<line x1="463.4" y1="515.6" x2="510.5" y2="480.5" stroke="#1a1a1a" stroke-width="1.08"/>
<text x="500.8" y="523.6" font-size="11" text-anchor="middle" fill="#1a1a1a" textLength="24.3" lengthAdjust="spacingAndGlyphs"><tspan font-size="11.99">2—2</tspan></text>
<line x1="486" y1="525.7" x2="515.8" y2="525.7" stroke="#333" stroke-width="1.2"/>
<rect x="428" y="597.7" width="152.3" height="132.2" fill="none" stroke="#1a1a1a" stroke-width="1.32"/>
<rect x="435.6" y="605.4" width="138.4" height="117" fill="none" stroke="#1a1a1a" stroke-width="1.8"/>
<line x1="466.6" y1="638.5" x2="470.6" y2="634.8" stroke="#222" stroke-width="1.02"/>
<line x1="466.6" y1="650.17" x2="483.2" y2="634.8" stroke="#222" stroke-width="1.02"/>
<line x1="466.6" y1="661.84" x2="495.8" y2="634.8" stroke="#222" stroke-width="1.02"/>
<line x1="466.6" y1="673.5" x2="508.4" y2="634.8" stroke="#222" stroke-width="1.02"/>
<line x1="466.6" y1="685.17" x2="521" y2="634.8" stroke="#222" stroke-width="1.02"/>
<line x1="471.18" y1="692.6" x2="533.6" y2="634.8" stroke="#222" stroke-width="1.02"/>
<line x1="483.78" y1="692.6" x2="543.1" y2="637.67" stroke="#222" stroke-width="1.02"/>
<line x1="496.38" y1="692.6" x2="543.1" y2="649.34" stroke="#222" stroke-width="1.02"/>
<line x1="508.98" y1="692.6" x2="543.1" y2="661" stroke="#222" stroke-width="1.02"/>
<line x1="521.58" y1="692.6" x2="543.1" y2="672.67" stroke="#222" stroke-width="1.02"/>
<line x1="534.18" y1="692.6" x2="543.1" y2="684.34" stroke="#222" stroke-width="1.02"/>
<circle cx="491.18" cy="651.18" r="0.4" fill="#777" stroke="none" stroke-width="0"/>
<circle cx="467.88" cy="677.97" r="0.4" fill="#777" stroke="none" stroke-width="0"/>
<circle cx="535.88" cy="671.18" r="0.4" fill="#777" stroke="none" stroke-width="0"/>
<circle cx="537.87" cy="637.15" r="0.4" fill="#777" stroke="none" stroke-width="0"/>
<circle cx="485.02" cy="662.32" r="0.4" fill="#777" stroke="none" stroke-width="0"/>
<circle cx="538.88" cy="689.03" r="0.4" fill="#777" stroke="none" stroke-width="0"/>
<circle cx="496.4" cy="649.81" r="0.4" fill="#777" stroke="none" stroke-width="0"/>
<circle cx="499.63" cy="663.34" r="0.4" fill="#777" stroke="none" stroke-width="0"/>
<circle cx="536.74" cy="646.01" r="0.4" fill="#777" stroke="none" stroke-width="0"/>
<circle cx="527.39" cy="677.01" r="0.4" fill="#777" stroke="none" stroke-width="0"/>
<circle cx="528.9" cy="678.92" r="0.4" fill="#777" stroke="none" stroke-width="0"/>
<circle cx="512.84" cy="654.09" r="0.4" fill="#777" stroke="none" stroke-width="0"/>
<circle cx="491.41" cy="655.99" r="0.4" fill="#777" stroke="none" stroke-width="0"/>
<circle cx="525.88" cy="640.21" r="0.4" fill="#777" stroke="none" stroke-width="0"/>
<circle cx="482.3" cy="677.81" r="0.4" fill="#777" stroke="none" stroke-width="0"/>
<circle cx="486.02" cy="639.41" r="0.4" fill="#777" stroke="none" stroke-width="0"/>
<circle cx="470.12" cy="666.63" r="0.4" fill="#777" stroke="none" stroke-width="0"/>
<circle cx="491.87" cy="690.5" r="0.4" fill="#777" stroke="none" stroke-width="0"/>
<circle cx="533.42" cy="690.92" r="0.4" fill="#777" stroke="none" stroke-width="0"/>
<circle cx="487.33" cy="640.49" r="0.4" fill="#777" stroke="none" stroke-width="0"/>
<circle cx="474.78" cy="663.61" r="0.4" fill="#777" stroke="none" stroke-width="0"/>
<circle cx="520.48" cy="660.74" r="0.4" fill="#777" stroke="none" stroke-width="0"/>
<circle cx="485.05" cy="659.06" r="0.4" fill="#777" stroke="none" stroke-width="0"/>
<circle cx="513.81" cy="673.42" r="0.4" fill="#777" stroke="none" stroke-width="0"/>
<circle cx="523.32" cy="683.06" r="0.4" fill="#777" stroke="none" stroke-width="0"/>
<circle cx="517.1" cy="642.56" r="0.4" fill="#777" stroke="none" stroke-width="0"/>
<circle cx="530.24" cy="652.19" r="0.4" fill="#777" stroke="none" stroke-width="0"/>
<circle cx="509.83" cy="656.61" r="0.4" fill="#777" stroke="none" stroke-width="0"/>
<circle cx="522.59" cy="646.91" r="0.4" fill="#777" stroke="none" stroke-width="0"/>
<circle cx="486.03" cy="649.49" r="0.4" fill="#777" stroke="none" stroke-width="0"/>
<circle cx="479.02" cy="685.14" r="0.4" fill="#777" stroke="none" stroke-width="0"/>
<circle cx="510.68" cy="654.01" r="0.4" fill="#777" stroke="none" stroke-width="0"/>
<circle cx="497.11" cy="691.18" r="0.4" fill="#777" stroke="none" stroke-width="0"/>
<circle cx="505.4" cy="648.71" r="0.4" fill="#777" stroke="none" stroke-width="0"/>
<circle cx="527.83" cy="672.26" r="0.4" fill="#777" stroke="none" stroke-width="0"/>
<circle cx="541.43" cy="641.51" r="0.4" fill="#777" stroke="none" stroke-width="0"/>
<circle cx="502.97" cy="681.51" r="0.4" fill="#777" stroke="none" stroke-width="0"/>
<circle cx="530.22" cy="686.82" r="0.4" fill="#777" stroke="none" stroke-width="0"/>
<circle cx="470.61" cy="652.19" r="0.4" fill="#777" stroke="none" stroke-width="0"/>
<circle cx="476.48" cy="646.38" r="0.4" fill="#777" stroke="none" stroke-width="0"/>
<circle cx="540.09" cy="668.34" r="0.4" fill="#777" stroke="none" stroke-width="0"/>
<circle cx="536.9" cy="656.57" r="0.4" fill="#777" stroke="none" stroke-width="0"/>
<circle cx="532.13" cy="660.86" r="0.4" fill="#777" stroke="none" stroke-width="0"/>
<circle cx="486.97" cy="679.2" r="0.4" fill="#777" stroke="none" stroke-width="0"/>
<circle cx="538.05" cy="641.7" r="0.4" fill="#777" stroke="none" stroke-width="0"/>
<circle cx="512.01" cy="670.39" r="0.4" fill="#777" stroke="none" stroke-width="0"/>
<circle cx="483.81" cy="656.37" r="0.4" fill="#777" stroke="none" stroke-width="0"/>
<circle cx="478.13" cy="647.18" r="0.4" fill="#777" stroke="none" stroke-width="0"/>
<circle cx="486.59" cy="669.25" r="0.4" fill="#777" stroke="none" stroke-width="0"/>
<circle cx="516.15" cy="647.15" r="0.4" fill="#777" stroke="none" stroke-width="0"/>
<circle cx="468.45" cy="654.06" r="0.4" fill="#777" stroke="none" stroke-width="0"/>
<circle cx="518.13" cy="646.13" r="0.4" fill="#777" stroke="none" stroke-width="0"/>
<circle cx="490.86" cy="647.15" r="0.4" fill="#777" stroke="none" stroke-width="0"/>
<circle cx="526.85" cy="666.38" r="0.4" fill="#777" stroke="none" stroke-width="0"/>
<circle cx="472.31" cy="641.46" r="0.4" fill="#777" stroke="none" stroke-width="0"/>
<circle cx="497.05" cy="666.5" r="0.4" fill="#777" stroke="none" stroke-width="0"/>
<circle cx="515.22" cy="640.89" r="0.4" fill="#777" stroke="none" stroke-width="0"/>
<circle cx="479.79" cy="674.6" r="0.4" fill="#777" stroke="none" stroke-width="0"/>
<circle cx="498.13" cy="651.61" r="0.4" fill="#777" stroke="none" stroke-width="0"/>
<circle cx="490.52" cy="688.99" r="0.4" fill="#777" stroke="none" stroke-width="0"/>
<circle cx="490.87" cy="667.41" r="0.4" fill="#777" stroke="none" stroke-width="0"/>
<circle cx="494.21" cy="659.04" r="0.4" fill="#777" stroke="none" stroke-width="0"/>
<circle cx="531.99" cy="691.41" r="0.4" fill="#777" stroke="none" stroke-width="0"/>
<circle cx="494.7" cy="646.8" r="0.4" fill="#777" stroke="none" stroke-width="0"/>
<circle cx="521.84" cy="647.16" r="0.4" fill="#777" stroke="none" stroke-width="0"/>
<circle cx="468.04" cy="686.11" r="0.4" fill="#777" stroke="none" stroke-width="0"/>
<circle cx="499.17" cy="681.58" r="0.4" fill="#777" stroke="none" stroke-width="0"/>
<circle cx="497.86" cy="685.06" r="0.4" fill="#777" stroke="none" stroke-width="0"/>
<circle cx="501.94" cy="644.87" r="0.4" fill="#777" stroke="none" stroke-width="0"/>
<circle cx="468.71" cy="666.58" r="0.4" fill="#777" stroke="none" stroke-width="0"/>
<circle cx="515.33" cy="686.57" r="0.4" fill="#777" stroke="none" stroke-width="0"/>
<circle cx="474.23" cy="670.52" r="0.4" fill="#777" stroke="none" stroke-width="0"/>
<circle cx="495.23" cy="663.95" r="0.4" fill="#777" stroke="none" stroke-width="0"/>
<circle cx="478.47" cy="651.61" r="0.4" fill="#777" stroke="none" stroke-width="0"/>
<circle cx="506.43" cy="687.44" r="0.4" fill="#777" stroke="none" stroke-width="0"/>
<circle cx="475.71" cy="663.17" r="0.4" fill="#777" stroke="none" stroke-width="0"/>
<circle cx="527.56" cy="689.75" r="0.4" fill="#777" stroke="none" stroke-width="0"/>
<circle cx="482.3" cy="642.87" r="0.4" fill="#777" stroke="none" stroke-width="0"/>
<circle cx="537.86" cy="690.24" r="0.4" fill="#777" stroke="none" stroke-width="0"/>
<circle cx="503.56" cy="638.78" r="0.4" fill="#777" stroke="none" stroke-width="0"/>
<circle cx="536.6" cy="657.44" r="0.4" fill="#777" stroke="none" stroke-width="0"/>
<circle cx="534.96" cy="670.42" r="0.4" fill="#777" stroke="none" stroke-width="0"/>
<circle cx="529.03" cy="644.74" r="0.4" fill="#777" stroke="none" stroke-width="0"/>
<circle cx="526.14" cy="648.19" r="0.4" fill="#777" stroke="none" stroke-width="0"/>
<circle cx="497.73" cy="683.03" r="0.4" fill="#777" stroke="none" stroke-width="0"/>
<circle cx="529.37" cy="646.01" r="0.4" fill="#777" stroke="none" stroke-width="0"/>
<circle cx="483.85" cy="658.11" r="0.4" fill="#777" stroke="none" stroke-width="0"/>
<circle cx="506.18" cy="657.2" r="0.4" fill="#777" stroke="none" stroke-width="0"/>
<circle cx="476.77" cy="649.59" r="0.4" fill="#777" stroke="none" stroke-width="0"/>
<circle cx="521.6" cy="685.87" r="0.4" fill="#777" stroke="none" stroke-width="0"/>
<ellipse cx="473.49" cy="650.41" rx="1.5" ry="1.72" fill="#666" stroke="#111" stroke-width="1" transform="rotate(25 473.49 650.41)"/>
<ellipse cx="481.9" cy="659.08" rx="1.5" ry="1.72" fill="#666" stroke="#111" stroke-width="1" transform="rotate(25 481.9 659.08)"/>
<ellipse cx="498.73" cy="652.14" rx="1.5" ry="1.72" fill="#666" stroke="#111" stroke-width="1" transform="rotate(25 498.73 652.14)"/>
<ellipse cx="493.38" cy="666.59" rx="1.5" ry="1.72" fill="#666" stroke="#111" stroke-width="1" transform="rotate(25 493.38 666.59)"/>
<ellipse cx="487.25" cy="682.2" rx="1.5" ry="1.72" fill="#666" stroke="#111" stroke-width="1" transform="rotate(25 487.25 682.2)"/>
<ellipse cx="512.5" cy="674.1" rx="1.5" ry="1.72" fill="#666" stroke="#111" stroke-width="1" transform="rotate(25 512.5 674.1)"/>
<ellipse cx="521.68" cy="643.47" rx="1.5" ry="1.72" fill="#666" stroke="#111" stroke-width="1" transform="rotate(25 521.68 643.47)"/>
<ellipse cx="537.75" cy="650.98" rx="1.5" ry="1.72" fill="#666" stroke="#111" stroke-width="1" transform="rotate(25 537.75 650.98)"/>
<ellipse cx="529.33" cy="670.64" rx="1.5" ry="1.72" fill="#666" stroke="#111" stroke-width="1" transform="rotate(25 529.33 670.64)"/>
<ellipse cx="523.21" cy="684.51" rx="1.5" ry="1.72" fill="#666" stroke="#111" stroke-width="1" transform="rotate(25 523.21 684.51)"/>
<ellipse cx="504.85" cy="689.71" rx="1.5" ry="1.72" fill="#666" stroke="#111" stroke-width="1" transform="rotate(25 504.85 689.71)"/>
<ellipse cx="474.25" cy="688.55" rx="1.5" ry="1.72" fill="#666" stroke="#111" stroke-width="1" transform="rotate(25 474.25 688.55)"/>
<ellipse cx="537.75" cy="688.55" rx="1.5" ry="1.72" fill="#666" stroke="#111" stroke-width="1" transform="rotate(25 537.75 688.55)"/>
<rect x="466.6" y="634.8" width="76.5" height="57.8" fill="none" stroke="#111" stroke-width="1.08"/>
<polygon points="461.3,630 476.3,630 474.3,634.8 466.6,634.8 466.6,643 461.3,645" fill="#111" stroke="#111" stroke-width="0.48"/>
<polygon points="547.4,630 532.4,630 534.4,634.8 543.1,634.8 543.1,643 547.4,645" fill="#111" stroke="#111" stroke-width="0.48"/>
<polygon points="461.3,696 476.3,696 474.3,692.6 466.6,692.6 466.6,683 461.3,681" fill="#111" stroke="#111" stroke-width="0.48"/>
<polygon points="547.4,696 532.4,696 534.4,692.6 543.1,692.6 543.1,683 547.4,681" fill="#111" stroke="#111" stroke-width="0.48"/>
<rect x="461.7" y="630.4" width="85.3" height="65.2" fill="none" stroke="#111" stroke-width="1.92"/>
<rect x="469.3" y="626.8" width="69.3" height="3.2" fill="none" stroke="#1a1a1a" stroke-width="1.08"/>
<rect x="469.3" y="696" width="69.3" height="3.2" fill="none" stroke="#1a1a1a" stroke-width="1.08"/>
<rect x="457.3" y="638" width="4" height="52" fill="none" stroke="#1a1a1a" stroke-width="1.08"/>
<rect x="547.4" y="638" width="3.7" height="52" fill="none" stroke="#1a1a1a" stroke-width="1.08"/>
<circle cx="438.2" cy="608.1" r="2.3" fill="#1a1a1a" stroke="none" stroke-width="0"/>
<circle cx="438.2" cy="720.4" r="2.3" fill="#1a1a1a" stroke="none" stroke-width="0"/>
<circle cx="472" cy="608.1" r="2.3" fill="#1a1a1a" stroke="none" stroke-width="0"/>
<circle cx="472" cy="720.4" r="2.3" fill="#1a1a1a" stroke="none" stroke-width="0"/>
<circle cx="504" cy="608.1" r="2.3" fill="#1a1a1a" stroke="none" stroke-width="0"/>
<circle cx="504" cy="720.4" r="2.3" fill="#1a1a1a" stroke="none" stroke-width="0"/>
<circle cx="537.2" cy="608.1" r="2.3" fill="#1a1a1a" stroke="none" stroke-width="0"/>
<circle cx="537.2" cy="720.4" r="2.3" fill="#1a1a1a" stroke="none" stroke-width="0"/>
<circle cx="571" cy="608.1" r="2.3" fill="#1a1a1a" stroke="none" stroke-width="0"/>
<circle cx="571" cy="720.4" r="2.3" fill="#1a1a1a" stroke="none" stroke-width="0"/>
<circle cx="438.2" cy="635.8" r="2.3" fill="#1a1a1a" stroke="none" stroke-width="0"/>
<circle cx="571" cy="635.8" r="2.3" fill="#1a1a1a" stroke="none" stroke-width="0"/>
<circle cx="438.2" cy="663.3" r="2.3" fill="#1a1a1a" stroke="none" stroke-width="0"/>
<circle cx="571" cy="663.3" r="2.3" fill="#1a1a1a" stroke="none" stroke-width="0"/>
<circle cx="438.2" cy="691.3" r="2.3" fill="#1a1a1a" stroke="none" stroke-width="0"/>
<circle cx="571" cy="691.3" r="2.3" fill="#1a1a1a" stroke="none" stroke-width="0"/>
<line x1="500" y1="605.4" x2="500" y2="644.6" stroke="#1a1a1a" stroke-width="2.16"/>
<circle cx="500" cy="643.5" r="1.6" fill="#1a1a1a" stroke="none" stroke-width="0"/>
<line x1="500" y1="683.3" x2="500" y2="722.4" stroke="#1a1a1a" stroke-width="2.16"/>
<circle cx="500" cy="684.5" r="1.6" fill="#1a1a1a" stroke="none" stroke-width="0"/>
<line x1="435.6" y1="667.3" x2="479.2" y2="667.3" stroke="#1a1a1a" stroke-width="2.16"/>
<line x1="529.2" y1="667.3" x2="574" y2="667.3" stroke="#1a1a1a" stroke-width="2.16"/>
<text x="406.4" y="566.8" font-size="11" text-anchor="start" fill="#1a1a1a" textLength="58.4" lengthAdjust="spacingAndGlyphs"><tspan font-weight="700">闭合箍</tspan><tspan font-size="11.99">4Φ10</tspan></text>
<line x1="405.1" y1="569.5" x2="468.3" y2="569.5" stroke="#333" stroke-width="1.08"/>
<line x1="468.3" y1="569.5" x2="492.9" y2="604.6" stroke="#1a1a1a" stroke-width="1.08"/>
<text x="566" y="568.8" font-size="11" text-anchor="start" fill="#333" textLength="29.2" lengthAdjust="spacingAndGlyphs"><tspan font-size="11.99">16Φ16</tspan></text>
<line x1="564.2" y1="570.8" x2="597.8" y2="570.8" stroke="#333" stroke-width="1.08"/>
<line x1="564.2" y1="570.8" x2="537.9" y2="607" stroke="#1a1a1a" stroke-width="1.08"/>
<text x="368.5" y="701.6" font-size="11" text-anchor="start" fill="#333" textLength="31.4" lengthAdjust="spacingAndGlyphs"><tspan font-size="11.99">16Φ10</tspan></text>
<line x1="367.1" y1="704.5" x2="403.6" y2="704.5" stroke="#555" stroke-width="1.08"/>
<line x1="403.6" y1="704.5" x2="447.5" y2="668.2" stroke="#1a1a1a" stroke-width="1.08"/>
<line x1="582.5" y1="598.2" x2="619.5" y2="598.2" stroke="#555" stroke-width="0.84"/>
<line x1="582.5" y1="631.6" x2="619.5" y2="631.6" stroke="#555" stroke-width="0.84"/>
<line x1="582.5" y1="697.1" x2="619.5" y2="697.1" stroke="#555" stroke-width="0.84"/>
<line x1="582.5" y1="730.5" x2="619.5" y2="730.5" stroke="#555" stroke-width="0.84"/>
<line x1="615.7" y1="595.5" x2="613.8" y2="733.5" stroke="#333" stroke-width="0.96"/>
<circle cx="615.7" cy="598.2" r="1" fill="#1a1a1a" stroke="none" stroke-width="0"/>
<circle cx="615.22" cy="631.6" r="1" fill="#1a1a1a" stroke="none" stroke-width="0"/>
<circle cx="614.28" cy="697.1" r="1" fill="#1a1a1a" stroke="none" stroke-width="0"/>
<circle cx="613.8" cy="730.5" r="1" fill="#1a1a1a" stroke="none" stroke-width="0"/>
<text x="612.4" y="614.6" font-size="11" text-anchor="middle" fill="#444" textLength="15.5" lengthAdjust="spacingAndGlyphs" transform="rotate(-90 612.4 614.6)"><tspan font-size="11.99">200</tspan></text>
<text x="612" y="667.6" font-size="11" text-anchor="middle" fill="#444" textLength="15.5" lengthAdjust="spacingAndGlyphs" transform="rotate(-90 612 667.6)"><tspan font-size="11.99">300</tspan></text>
<text x="611.4" y="712.3" font-size="11" text-anchor="middle" fill="#444" textLength="15.5" lengthAdjust="spacingAndGlyphs" transform="rotate(-90 611.4 712.3)"><tspan font-size="11.99">200</tspan></text>
<line x1="427.9" y1="732" x2="427.9" y2="770.6" stroke="#444" stroke-width="0.84"/>
<circle cx="427.9" cy="766.8" r="1" fill="#1a1a1a" stroke="none" stroke-width="0"/>
<line x1="461.2" y1="732" x2="461.2" y2="770.6" stroke="#444" stroke-width="0.84"/>
<circle cx="461.2" cy="766.8" r="1" fill="#1a1a1a" stroke="none" stroke-width="0"/>
<line x1="545.5" y1="732" x2="545.5" y2="770.6" stroke="#444" stroke-width="0.84"/>
<circle cx="545.5" cy="766.8" r="1" fill="#1a1a1a" stroke="none" stroke-width="0"/>
<line x1="579.7" y1="732" x2="579.7" y2="770.6" stroke="#444" stroke-width="0.84"/>
<circle cx="579.7" cy="766.8" r="1" fill="#1a1a1a" stroke="none" stroke-width="0"/>
<line x1="425.5" y1="766.8" x2="581.8" y2="766.8" stroke="#333" stroke-width="0.96"/>
<text x="445.7" y="764" font-size="11" text-anchor="middle" fill="#333" textLength="16.6" lengthAdjust="spacingAndGlyphs"><tspan font-size="11.99">200</tspan></text>
<text x="506" y="764" font-size="11" text-anchor="middle" fill="#333" textLength="16.4" lengthAdjust="spacingAndGlyphs"><tspan font-size="11.99">400</tspan></text>
<text x="562.6" y="764" font-size="11" text-anchor="middle" fill="#333" textLength="16.4" lengthAdjust="spacingAndGlyphs"><tspan font-size="11.99">200</tspan></text>
<text x="503.8" y="797.8" font-size="11" text-anchor="middle" fill="#1a1a1a" textLength="25.6" lengthAdjust="spacingAndGlyphs"><tspan font-size="11.99">3—3</tspan></text>
<line x1="488.3" y1="800.4" x2="517.8" y2="800.4" stroke="#333" stroke-width="1.2"/>
</g>
</svg>
</body></html>
